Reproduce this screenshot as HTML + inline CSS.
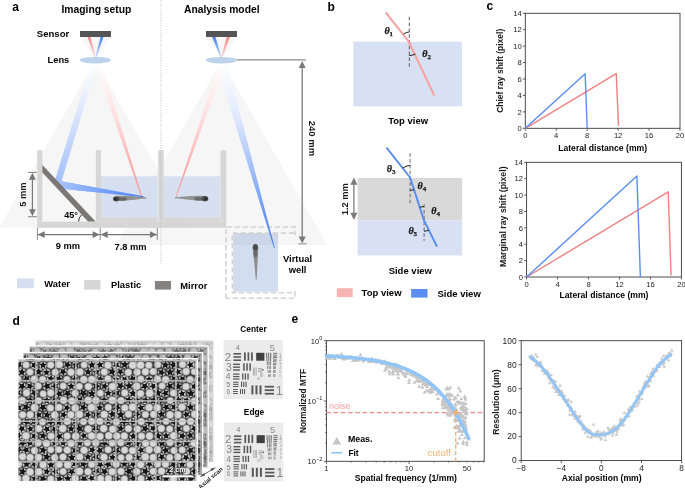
<!DOCTYPE html>
<html><head><meta charset="utf-8"><style>
html,body{margin:0;padding:0;background:#fff;width:685px;height:488px;overflow:hidden}
svg{display:block;font-family:"Liberation Sans",sans-serif;will-change:transform}
</style></head><body>
<svg width="685" height="488" viewBox="0 0 685 488">
<defs>
<linearGradient id="gBlueDown" x1="0" y1="63" x2="0" y2="182" gradientUnits="userSpaceOnUse">
 <stop offset="0" stop-color="#ffffff"/><stop offset="0.35" stop-color="#e3ebfd"/><stop offset="1" stop-color="#a3bffb"/></linearGradient>
<linearGradient id="gBlueOut" x1="58" y1="0" x2="143" y2="0" gradientUnits="userSpaceOnUse">
 <stop offset="0" stop-color="#a8c3fb"/><stop offset="1" stop-color="#4a84f3"/></linearGradient>
<linearGradient id="gRedA" x1="0" y1="63" x2="0" y2="198" gradientUnits="userSpaceOnUse">
 <stop offset="0" stop-color="#ffffff"/><stop offset="0.4" stop-color="#fde0e0"/><stop offset="1" stop-color="#fb8f8f"/></linearGradient>
<linearGradient id="gBlueB" x1="0" y1="63" x2="0" y2="248" gradientUnits="userSpaceOnUse">
 <stop offset="0" stop-color="#ffffff"/><stop offset="0.3" stop-color="#dfe8fd"/><stop offset="1" stop-color="#3f7cf2"/></linearGradient>
<linearGradient id="gRedB" x1="0" y1="63" x2="0" y2="198" gradientUnits="userSpaceOnUse">
 <stop offset="0" stop-color="#ffffff"/><stop offset="0.4" stop-color="#fde0e0"/><stop offset="1" stop-color="#fb8f8f"/></linearGradient>
<linearGradient id="gUpBlue" x1="0" y1="37" x2="0" y2="58" gradientUnits="userSpaceOnUse">
 <stop offset="0" stop-color="#4a84f3"/><stop offset="1" stop-color="#c8d8fb"/></linearGradient>
<linearGradient id="gUpRed" x1="0" y1="37" x2="0" y2="58" gradientUnits="userSpaceOnUse">
 <stop offset="0" stop-color="#f98e8e"/><stop offset="1" stop-color="#fcd6d6"/></linearGradient>
</defs>
<polygon points="95.30,61.00 -1.00,227.50 191.50,227.50" fill="#000" fill-opacity="0.035"/>
<polygon points="221.50,61.00 115.70,245.00 327.30,245.00" fill="#000" fill-opacity="0.035"/>
<rect x="37.20" y="221.60" width="189.10" height="6.20" fill="#d6d6d6" />
<rect x="101.00" y="217.20" width="56.60" height="4.50" fill="#d6d6d6" />
<rect x="163.70" y="217.20" width="56.60" height="4.50" fill="#d6d6d6" />
<rect x="101.00" y="176.30" width="56.60" height="40.90" fill="#d3ddf0" fill-opacity="0.9"/>
<rect x="163.70" y="176.30" width="56.60" height="40.90" fill="#d3ddf0" fill-opacity="0.9"/>
<rect x="37.20" y="150.20" width="5.20" height="71.40" fill="#d6d6d6" />
<rect x="95.80" y="150.20" width="5.20" height="71.40" fill="#d6d6d6" />
<rect x="158.20" y="150.20" width="5.50" height="71.40" fill="#d6d6d6" />
<rect x="220.50" y="150.20" width="5.80" height="71.40" fill="#d6d6d6" />
<polygon points="80.00,37.00 111.00,37.00 95.50,59.00" fill="#000" fill-opacity="0.03"/>
<polygon points="206.00,37.00 237.00,37.00 221.50,59.00" fill="#000" fill-opacity="0.03"/>
<polygon points="87.50,37.00 90.50,37.00 95.50,57.00 94.50,57.00" fill="url(#gUpRed)" />
<polygon points="100.50,37.00 103.50,37.00 96.50,57.00 95.50,57.00" fill="url(#gUpBlue)" />
<polygon points="212.00,37.00 215.50,37.00 221.50,57.00 220.50,57.00" fill="url(#gUpBlue)" />
<polygon points="226.50,37.00 230.00,37.00 222.50,57.00 221.50,57.00" fill="url(#gUpRed)" />
<rect x="80.00" y="31.00" width="31.00" height="6.00" fill="#555" />
<rect x="206.00" y="31.00" width="31.00" height="6.00" fill="#555" />
<rect x="233.10" y="233.10" width="45.00" height="58.60" fill="#d3ddf0" />
<rect x="233.10" y="233.10" width="45.00" height="11.90" fill="#000" fill-opacity="0.03"/>
<path d="M226,298.2 V227 H295 V235 M295,291.3 V298.2 H226" fill="none" stroke="#d4d4d4" stroke-width="1.6" stroke-dasharray="5.2,2.8"/>
<path d="M294,233.1 H232.3 V292.8 H295" fill="none" stroke="#d4d4d4" stroke-width="1.6" stroke-dasharray="5.2,2.8"/>
<g filter="url(#fb2)"><path d="M252.6,247 C252.8,255 254.8,262 255.7,279.5 L256.7,279.5 C257.3,266 258,256 258.4,247 Z" fill="#8f8f8f"/><ellipse cx="255.5" cy="253.5" rx="1.9" ry="4" fill="#6a6a6a"/><ellipse cx="255.4" cy="247.2" rx="2.6" ry="3.1" fill="#4a4a4a"/></g>
<defs><filter id="fb2" x="-50%" y="-20%" width="200%" height="140%"><feGaussianBlur stdDeviation="0.45"/></filter></defs>
<polygon points="94.50,63.00 101.50,63.00 142.50,197.80 141.50,197.80" fill="url(#gRedA)" />
<polygon points="91.00,63.00 97.50,63.00 61.50,181.30 143.50,196.30 143.50,197.30 64.00,189.00 55.00,180.00" fill="url(#gBlueDown)" />
<polygon points="61.50,181.30 143.50,196.30 143.50,197.30 64.00,189.00 58.00,181.50" fill="url(#gBlueOut)" />
<polygon points="219.00,63.00 226.00,63.00 175.80,198.40 175.20,198.40" fill="url(#gRedB)" />
<polygon points="216.00,63.00 227.00,63.00 274.80,248.00 274.00,248.00" fill="url(#gBlueB)" />
<ellipse cx="95.3" cy="60.2" rx="15.5" ry="3.3" fill="#bcd3eb"/>
<ellipse cx="221.5" cy="60.2" rx="15.5" ry="3.3" fill="#bcd3eb"/>
<polygon points="42.40,165.00 95.60,221.60 88.00,221.60 42.40,172.60" fill="#7c7777" />
<defs><filter id="fb" x="-20%" y="-50%" width="140%" height="200%"><feGaussianBlur stdDeviation="0.45"/></filter></defs>
<g filter="url(#fb)"><path d="M116.3,196.1 C125.3,195.4 133.3,196.4 146.3,197.3 L146.3,198.4 C135.3,199.2 127.3,201.0 116.3,201.1 Z" fill="#929292"/><ellipse cx="122.8" cy="198.8" rx="4.2" ry="1.9" fill="#6a6a6a"/><ellipse cx="116.3" cy="198.8" rx="3.3" ry="2.6" fill="#4a4a4a"/><circle cx="115.5" cy="199.1" r="1.4" fill="#2a2a2a"/></g>
<g filter="url(#fb)"><path d="M205.0,196.0 C196.0,195.3 188.0,196.3 175.0,197.2 L175.0,198.3 C186.0,199.1 194.0,200.9 205.0,201.0 Z" fill="#929292"/><ellipse cx="198.5" cy="198.7" rx="4.2" ry="1.9" fill="#6a6a6a"/><ellipse cx="205.0" cy="198.7" rx="3.3" ry="2.6" fill="#4a4a4a"/><circle cx="205.8" cy="199.0" r="1.4" fill="#2a2a2a"/></g>
<line x1="237.00" y1="59.80" x2="306.00" y2="59.80" stroke="#8c8c8c" stroke-width="1.3" />
<line x1="302.20" y1="66.00" x2="302.20" y2="237.00" stroke="#7a7a7a" stroke-width="1.3" />
<polygon points="302.20,61.00 298.70,68.00 305.70,68.00" fill="#7a7a7a" />
<polygon points="302.20,243.40 298.70,236.40 305.70,236.40" fill="#7a7a7a" />
<line x1="298.30" y1="243.80" x2="306.80" y2="243.80" stroke="#9a9a9a" stroke-width="1.2" />
<text x="0.00" y="0.00" font-size="9.5" font-weight="bold" text-anchor="middle" fill="#1a1a1a" transform="translate(308.6,138.4) rotate(90)">240 mm</text>
<line x1="160.90" y1="0.00" x2="160.90" y2="264.00" stroke="#bdbdbd" stroke-width="0.9" stroke-dasharray="1.1,1.4"/>
<line x1="28.00" y1="172.40" x2="36.80" y2="172.40" stroke="#8a8a8a" stroke-width="1.1" />
<line x1="28.00" y1="216.70" x2="36.80" y2="216.70" stroke="#8a8a8a" stroke-width="1.1" />
<line x1="32.40" y1="178.00" x2="32.40" y2="211.00" stroke="#777" stroke-width="1.2" />
<polygon points="32.40,172.80 29.00,179.80 35.80,179.80" fill="#777" />
<polygon points="32.40,216.30 29.00,209.30 35.80,209.30" fill="#777" />
<text x="0.00" y="0.00" font-size="9.3" font-weight="bold" text-anchor="middle" fill="#1a1a1a" transform="translate(26,194.7) rotate(-90)">5 mm</text>
<line x1="37.40" y1="234.60" x2="100.00" y2="234.60" stroke="#777" stroke-width="1.2" />
<polygon points="37.70,234.60 44.70,231.30 44.70,237.90" fill="#777" />
<polygon points="99.70,234.60 92.70,231.30 92.70,237.90" fill="#777" />
<line x1="100.40" y1="234.60" x2="157.30" y2="234.60" stroke="#777" stroke-width="1.2" />
<polygon points="100.70,234.60 107.70,231.30 107.70,237.90" fill="#777" />
<polygon points="157.00,234.60 150.00,231.30 150.00,237.90" fill="#777" />
<line x1="37.40" y1="227.80" x2="37.40" y2="240.00" stroke="#8a8a8a" stroke-width="1" />
<line x1="100.20" y1="227.80" x2="100.20" y2="240.00" stroke="#8a8a8a" stroke-width="1" />
<line x1="157.30" y1="227.80" x2="157.30" y2="240.00" stroke="#8a8a8a" stroke-width="1" />
<text x="67.80" y="248.60" font-size="9.3" font-weight="bold" text-anchor="middle" fill="#000" >9 mm</text>
<text x="130.60" y="249.80" font-size="9.3" font-weight="bold" text-anchor="middle" fill="#000" >7.8 mm</text>
<text x="64.30" y="218.40" font-size="9" font-weight="bold" text-anchor="start" fill="#000" >45°</text>
<path d="M78.6,221.5 A9.4,9.4 0 0 1 81.6,214.7" fill="none" stroke="#222" stroke-width="0.9"/>
<text x="297.50" y="261.80" font-size="9.4" font-weight="bold" text-anchor="middle" fill="#000" >Virtual</text>
<text x="297.50" y="273.10" font-size="9.4" font-weight="bold" text-anchor="middle" fill="#000" >well</text>
<text x="12.20" y="10.60" font-size="12" font-weight="bold" text-anchor="start" fill="#000" >a</text>
<text x="61.50" y="13.20" font-size="10.3" font-weight="bold" text-anchor="start" fill="#000" >Imaging setup</text>
<text x="184.00" y="12.70" font-size="10.3" font-weight="bold" text-anchor="start" fill="#000" >Analysis model</text>
<text x="69.30" y="36.80" font-size="9.6" font-weight="bold" text-anchor="end" fill="#000" >Sensor</text>
<text x="69.30" y="63.00" font-size="9.3" font-weight="bold" text-anchor="end" fill="#000" >Lens</text>
<rect x="17.00" y="278.40" width="16.90" height="9.80" fill="#d5dff1" />
<text x="44.30" y="287.30" font-size="9.4" font-weight="bold" text-anchor="start" fill="#000" >Water</text>
<rect x="84.10" y="280.00" width="16.40" height="9.60" fill="#d6d6d6" />
<text x="111.00" y="287.70" font-size="9.4" font-weight="bold" text-anchor="start" fill="#000" >Plastic</text>
<rect x="154.90" y="281.00" width="16.10" height="8.60" fill="#878282" />
<text x="180.30" y="288.90" font-size="9.4" font-weight="bold" text-anchor="start" fill="#000" >Mirror</text>
<text x="327.60" y="11.20" font-size="12" font-weight="bold" text-anchor="start" fill="#000" >b</text>
<rect x="353.30" y="41.70" width="108.70" height="64.60" fill="#d8e1f3" />
<line x1="409.30" y1="16.80" x2="409.30" y2="69.00" stroke="#4a4a4a" stroke-width="0.9" stroke-dasharray="3.6,2.2"/>
<polyline points="385.7,12.4 408.6,41.3 434.3,95.6" fill="none" stroke="#f6a2a2" stroke-width="2.1" stroke-linejoin="round"/>
<path d="M403.52,34.01 A9.3,9.3 0 0 1 409.30,32.00" fill="none" stroke="#1a1a1a" stroke-width="1"/>
<path d="M409.30,55.50 A14.2,14.2 0 0 0 415.37,54.14" fill="none" stroke="#1a1a1a" stroke-width="1"/>
<text x="384.40" y="33.90" font-family="Liberation Serif,serif" font-style="italic" font-weight="bold" font-size="10" fill="#1a1a1a" stroke="#1a1a1a" stroke-width="0.25">θ<tspan font-size="7" dy="1.9" font-style="normal">1</tspan></text>
<text x="422.20" y="57.30" font-family="Liberation Serif,serif" font-style="italic" font-weight="bold" font-size="10" fill="#1a1a1a" stroke="#1a1a1a" stroke-width="0.25">θ<tspan font-size="7" dy="1.9" font-style="normal">2</tspan></text>
<text x="408.20" y="124.00" font-size="9.5" font-weight="bold" text-anchor="middle" fill="#000" >Top view</text>
<rect x="357.60" y="177.90" width="104.50" height="42.50" fill="#d9d9d9" />
<rect x="357.60" y="220.40" width="104.50" height="35.10" fill="#d8e1f3" />
<line x1="410.10" y1="153.20" x2="410.10" y2="205.30" stroke="#5a5a5a" stroke-width="0.9" stroke-dasharray="3.6,2.2"/>
<line x1="424.10" y1="204.20" x2="424.10" y2="240.80" stroke="#5a5a5a" stroke-width="0.9" stroke-dasharray="3.6,2.2"/>
<polyline points="386.5,147.6 410.1,177.5 424.0,220.4 437,246.6" fill="none" stroke="#5b8ef0" stroke-width="2" stroke-linejoin="round"/>
<path d="M402.67,168.08 A12,12 0 0 1 410.10,165.50" fill="none" stroke="#1a1a1a" stroke-width="1"/>
<path d="M410.10,190.30 A12.8,12.8 0 0 0 414.05,189.68" fill="none" stroke="#1a1a1a" stroke-width="1"/>
<path d="M419.75,207.27 A13.8,13.8 0 0 1 424.00,206.60" fill="none" stroke="#1a1a1a" stroke-width="1"/>
<path d="M424.00,231.20 A10.8,10.8 0 0 0 428.80,230.07" fill="none" stroke="#1a1a1a" stroke-width="1"/>
<text x="386.80" y="171.80" font-family="Liberation Serif,serif" font-style="italic" font-weight="bold" font-size="10" fill="#1a1a1a" stroke="#1a1a1a" stroke-width="0.25">θ<tspan font-size="7" dy="1.9" font-style="normal">3</tspan></text>
<text x="417.60" y="189.20" font-family="Liberation Serif,serif" font-style="italic" font-weight="bold" font-size="10" fill="#1a1a1a" stroke="#1a1a1a" stroke-width="0.25">θ<tspan font-size="7" dy="1.9" font-style="normal">4</tspan></text>
<text x="431.20" y="214.20" font-family="Liberation Serif,serif" font-style="italic" font-weight="bold" font-size="10" fill="#1a1a1a" stroke="#1a1a1a" stroke-width="0.25">θ<tspan font-size="7" dy="1.9" font-style="normal">4</tspan></text>
<text x="408.40" y="234.30" font-family="Liberation Serif,serif" font-style="italic" font-weight="bold" font-size="10" fill="#1a1a1a" stroke="#1a1a1a" stroke-width="0.25">θ<tspan font-size="7" dy="1.9" font-style="normal">5</tspan></text>
<line x1="353.90" y1="184.00" x2="353.90" y2="214.00" stroke="#7a7a7a" stroke-width="1.3" />
<polygon points="353.90,177.60 350.40,184.80 357.40,184.80" fill="#7a7a7a" />
<polygon points="353.90,220.00 350.40,212.80 357.40,212.80" fill="#7a7a7a" />
<text x="0.00" y="0.00" font-size="9.3" font-weight="bold" text-anchor="middle" fill="#1a1a1a" transform="translate(347.6,199.2) rotate(-90)">1.2 mm</text>
<text x="410.30" y="274.20" font-size="9.5" font-weight="bold" text-anchor="middle" fill="#000" >Side view</text>
<rect x="336.80" y="288.20" width="15.90" height="8.90" fill="#f8b3b3" />
<text x="361.60" y="296.00" font-size="9.5" font-weight="bold" text-anchor="start" fill="#000" >Top view</text>
<rect x="411.10" y="289.00" width="16.40" height="8.60" fill="#5b8ef0" />
<text x="437.50" y="296.50" font-size="9.5" font-weight="bold" text-anchor="start" fill="#000" >Side view</text>
<text x="486.60" y="10.40" font-size="12" font-weight="bold" text-anchor="start" fill="#000" >c</text>
<rect x="525.30" y="13.30" width="154.70" height="115.00" fill="none" stroke="#3a3a3a" stroke-width="0.9"/>
<line x1="525.30" y1="128.30" x2="525.30" y2="130.80" stroke="#3a3a3a" stroke-width="0.8" />
<text x="525.30" y="137.90" font-size="7.6" font-weight="normal" text-anchor="middle" fill="#222" >0</text>
<line x1="556.24" y1="128.30" x2="556.24" y2="130.80" stroke="#3a3a3a" stroke-width="0.8" />
<text x="556.24" y="137.90" font-size="7.6" font-weight="normal" text-anchor="middle" fill="#222" >4</text>
<line x1="587.18" y1="128.30" x2="587.18" y2="130.80" stroke="#3a3a3a" stroke-width="0.8" />
<text x="587.18" y="137.90" font-size="7.6" font-weight="normal" text-anchor="middle" fill="#222" >8</text>
<line x1="618.12" y1="128.30" x2="618.12" y2="130.80" stroke="#3a3a3a" stroke-width="0.8" />
<text x="618.12" y="137.90" font-size="7.6" font-weight="normal" text-anchor="middle" fill="#222" >12</text>
<line x1="649.06" y1="128.30" x2="649.06" y2="130.80" stroke="#3a3a3a" stroke-width="0.8" />
<text x="649.06" y="137.90" font-size="7.6" font-weight="normal" text-anchor="middle" fill="#222" >16</text>
<line x1="680.00" y1="128.30" x2="680.00" y2="130.80" stroke="#3a3a3a" stroke-width="0.8" />
<text x="680.00" y="137.90" font-size="7.6" font-weight="normal" text-anchor="middle" fill="#222" >20</text>
<line x1="522.80" y1="128.30" x2="525.30" y2="128.30" stroke="#3a3a3a" stroke-width="0.8" />
<text x="521.70" y="131.00" font-size="7.6" font-weight="normal" text-anchor="end" fill="#222" >0</text>
<line x1="522.80" y1="111.87" x2="525.30" y2="111.87" stroke="#3a3a3a" stroke-width="0.8" />
<text x="521.70" y="114.57" font-size="7.6" font-weight="normal" text-anchor="end" fill="#222" >2</text>
<line x1="522.80" y1="95.44" x2="525.30" y2="95.44" stroke="#3a3a3a" stroke-width="0.8" />
<text x="521.70" y="98.14" font-size="7.6" font-weight="normal" text-anchor="end" fill="#222" >4</text>
<line x1="522.80" y1="79.01" x2="525.30" y2="79.01" stroke="#3a3a3a" stroke-width="0.8" />
<text x="521.70" y="81.71" font-size="7.6" font-weight="normal" text-anchor="end" fill="#222" >6</text>
<line x1="522.80" y1="62.59" x2="525.30" y2="62.59" stroke="#3a3a3a" stroke-width="0.8" />
<text x="521.70" y="65.29" font-size="7.6" font-weight="normal" text-anchor="end" fill="#222" >8</text>
<line x1="522.80" y1="46.16" x2="525.30" y2="46.16" stroke="#3a3a3a" stroke-width="0.8" />
<text x="521.70" y="48.86" font-size="7.6" font-weight="normal" text-anchor="end" fill="#222" >10</text>
<line x1="522.80" y1="29.73" x2="525.30" y2="29.73" stroke="#3a3a3a" stroke-width="0.8" />
<text x="521.70" y="32.43" font-size="7.6" font-weight="normal" text-anchor="end" fill="#222" >12</text>
<line x1="522.80" y1="13.30" x2="525.30" y2="13.30" stroke="#3a3a3a" stroke-width="0.8" />
<text x="521.70" y="16.00" font-size="7.6" font-weight="normal" text-anchor="end" fill="#222" >14</text>
<polyline points="525.30,128.30 616.26,73.68 618.51,125.84" fill="none" stroke="#f08080" stroke-width="1.4" stroke-linejoin="round"/>
<polyline points="525.30,128.30 585.17,73.68 587.18,128.30" fill="none" stroke="#5a8df0" stroke-width="1.4" stroke-linejoin="round"/>
<text x="602.65" y="150.60" font-size="8.6" font-weight="bold" text-anchor="middle" fill="#000" >Lateral distance (mm)</text>
<text x="0.00" y="0.00" font-size="8.5" font-weight="bold" text-anchor="middle" fill="#1a1a1a" transform="translate(503.30,70.80) rotate(-90)">Chief ray shift (pixel)</text>
<rect x="526.60" y="162.30" width="154.80" height="114.70" fill="none" stroke="#3a3a3a" stroke-width="0.9"/>
<line x1="526.60" y1="277.00" x2="526.60" y2="279.50" stroke="#3a3a3a" stroke-width="0.8" />
<text x="526.60" y="286.90" font-size="7.6" font-weight="normal" text-anchor="middle" fill="#222" >0</text>
<line x1="557.56" y1="277.00" x2="557.56" y2="279.50" stroke="#3a3a3a" stroke-width="0.8" />
<text x="557.56" y="286.90" font-size="7.6" font-weight="normal" text-anchor="middle" fill="#222" >4</text>
<line x1="588.52" y1="277.00" x2="588.52" y2="279.50" stroke="#3a3a3a" stroke-width="0.8" />
<text x="588.52" y="286.90" font-size="7.6" font-weight="normal" text-anchor="middle" fill="#222" >8</text>
<line x1="619.48" y1="277.00" x2="619.48" y2="279.50" stroke="#3a3a3a" stroke-width="0.8" />
<text x="619.48" y="286.90" font-size="7.6" font-weight="normal" text-anchor="middle" fill="#222" >12</text>
<line x1="650.44" y1="277.00" x2="650.44" y2="279.50" stroke="#3a3a3a" stroke-width="0.8" />
<text x="650.44" y="286.90" font-size="7.6" font-weight="normal" text-anchor="middle" fill="#222" >16</text>
<line x1="681.40" y1="277.00" x2="681.40" y2="279.50" stroke="#3a3a3a" stroke-width="0.8" />
<text x="681.40" y="286.90" font-size="7.6" font-weight="normal" text-anchor="middle" fill="#222" >20</text>
<line x1="524.10" y1="277.00" x2="526.60" y2="277.00" stroke="#3a3a3a" stroke-width="0.8" />
<text x="523.00" y="279.70" font-size="7.6" font-weight="normal" text-anchor="end" fill="#222" >0</text>
<line x1="524.10" y1="260.61" x2="526.60" y2="260.61" stroke="#3a3a3a" stroke-width="0.8" />
<text x="523.00" y="263.31" font-size="7.6" font-weight="normal" text-anchor="end" fill="#222" >2</text>
<line x1="524.10" y1="244.23" x2="526.60" y2="244.23" stroke="#3a3a3a" stroke-width="0.8" />
<text x="523.00" y="246.93" font-size="7.6" font-weight="normal" text-anchor="end" fill="#222" >4</text>
<line x1="524.10" y1="227.84" x2="526.60" y2="227.84" stroke="#3a3a3a" stroke-width="0.8" />
<text x="523.00" y="230.54" font-size="7.6" font-weight="normal" text-anchor="end" fill="#222" >6</text>
<line x1="524.10" y1="211.46" x2="526.60" y2="211.46" stroke="#3a3a3a" stroke-width="0.8" />
<text x="523.00" y="214.16" font-size="7.6" font-weight="normal" text-anchor="end" fill="#222" >8</text>
<line x1="524.10" y1="195.07" x2="526.60" y2="195.07" stroke="#3a3a3a" stroke-width="0.8" />
<text x="523.00" y="197.77" font-size="7.6" font-weight="normal" text-anchor="end" fill="#222" >10</text>
<line x1="524.10" y1="178.69" x2="526.60" y2="178.69" stroke="#3a3a3a" stroke-width="0.8" />
<text x="523.00" y="181.39" font-size="7.6" font-weight="normal" text-anchor="end" fill="#222" >12</text>
<line x1="524.10" y1="162.30" x2="526.60" y2="162.30" stroke="#3a3a3a" stroke-width="0.8" />
<text x="523.00" y="165.00" font-size="7.6" font-weight="normal" text-anchor="end" fill="#222" >14</text>
<polyline points="526.60,277.00 668.24,191.79 671.03,275.36" fill="none" stroke="#f08080" stroke-width="1.4" stroke-linejoin="round"/>
<polyline points="526.60,277.00 636.89,175.98 640.38,277.00" fill="none" stroke="#5a8df0" stroke-width="1.4" stroke-linejoin="round"/>
<text x="604.00" y="298.30" font-size="8.6" font-weight="bold" text-anchor="middle" fill="#000" >Lateral distance (mm)</text>
<text x="0.00" y="0.00" font-size="8.75" font-weight="bold" text-anchor="middle" fill="#1a1a1a" transform="translate(505.60,216.75) rotate(-90)">Marginal ray shift (pixel)</text>
<text x="12.60" y="324.80" font-size="12" font-weight="bold" text-anchor="start" fill="#000" >d</text>
<defs><filter id="tb" x="-5%" y="-5%" width="110%" height="110%"><feGaussianBlur stdDeviation="0.55"/></filter><g id="tex" filter="url(#tb)"><rect x="9.899999999999999" y="350.7" width="195.2" height="138.6" fill="#3c3c3c"/><g fill="#d8d8d8" stroke="#8a8a8a" stroke-width="0.6"><circle cx="10.0" cy="350.9" r="3.8"/><circle cx="18.5" cy="350.2" r="3.6"/><circle cx="26.7" cy="350.3" r="3.6"/><circle cx="34.5" cy="350.8" r="3.4"/><circle cx="43.0" cy="350.4" r="3.8"/><circle cx="50.4" cy="351.1" r="3.5"/><circle cx="59.6" cy="351.1" r="3.5"/><circle cx="67.5" cy="350.4" r="3.9"/><circle cx="75.9" cy="350.5" r="3.6"/><circle cx="83.3" cy="350.3" r="3.6"/><circle cx="91.7" cy="350.5" r="3.8"/><circle cx="100.3" cy="350.3" r="3.9"/><circle cx="107.8" cy="351.0" r="3.6"/><circle cx="116.2" cy="351.2" r="3.5"/><circle cx="125.1" cy="350.5" r="3.6"/><circle cx="133.2" cy="350.3" r="3.8"/><circle cx="141.5" cy="350.3" r="3.6"/><circle cx="149.1" cy="351.1" r="3.7"/><circle cx="157.3" cy="350.4" r="3.4"/><circle cx="165.4" cy="350.2" r="3.9"/><circle cx="174.0" cy="351.0" r="3.6"/><circle cx="181.7" cy="351.1" r="3.4"/><circle cx="190.5" cy="351.1" r="3.7"/><circle cx="198.4" cy="350.3" r="3.8"/><circle cx="206.7" cy="351.2" r="3.8"/><circle cx="14.0" cy="358.0" r="3.6"/><circle cx="22.1" cy="358.3" r="3.9"/><circle cx="30.4" cy="357.6" r="3.4"/><circle cx="38.5" cy="358.1" r="3.8"/><circle cx="47.1" cy="357.7" r="3.8"/><circle cx="55.0" cy="358.1" r="3.7"/><circle cx="63.3" cy="357.3" r="3.7"/><circle cx="71.7" cy="357.9" r="3.8"/><circle cx="79.7" cy="358.0" r="3.8"/><circle cx="88.0" cy="358.3" r="3.9"/><circle cx="96.3" cy="358.2" r="3.6"/><circle cx="104.4" cy="358.0" r="3.5"/><circle cx="112.3" cy="357.9" r="3.8"/><circle cx="120.1" cy="357.5" r="3.6"/><circle cx="128.5" cy="358.0" r="3.7"/><circle cx="136.6" cy="357.4" r="3.6"/><circle cx="145.2" cy="357.7" r="3.7"/><circle cx="153.1" cy="358.2" r="3.4"/><circle cx="161.2" cy="358.1" r="3.6"/><circle cx="169.8" cy="357.6" r="3.7"/><circle cx="178.3" cy="357.7" r="3.8"/><circle cx="186.3" cy="357.9" r="3.9"/><circle cx="194.3" cy="358.2" r="3.4"/><circle cx="202.7" cy="357.9" r="3.5"/><circle cx="210.7" cy="357.5" r="3.5"/><circle cx="10.4" cy="365.3" r="3.7"/><circle cx="18.6" cy="364.9" r="3.6"/><circle cx="26.1" cy="364.9" r="3.5"/><circle cx="34.3" cy="365.2" r="3.8"/><circle cx="43.1" cy="365.2" r="3.5"/><circle cx="50.7" cy="365.0" r="3.6"/><circle cx="59.3" cy="364.5" r="3.8"/><circle cx="67.3" cy="364.7" r="3.5"/><circle cx="75.7" cy="365.0" r="3.4"/><circle cx="84.1" cy="364.9" r="3.4"/><circle cx="91.8" cy="365.0" r="3.8"/><circle cx="100.0" cy="364.8" r="3.8"/><circle cx="107.9" cy="365.2" r="3.7"/><circle cx="116.3" cy="365.2" r="3.9"/><circle cx="124.7" cy="364.7" r="3.5"/><circle cx="132.6" cy="365.2" r="3.8"/><circle cx="140.6" cy="365.1" r="3.9"/><circle cx="148.8" cy="365.2" r="3.5"/><circle cx="157.7" cy="364.5" r="3.5"/><circle cx="165.3" cy="365.0" r="3.6"/><circle cx="173.5" cy="364.8" r="3.4"/><circle cx="182.5" cy="364.5" r="3.6"/><circle cx="190.4" cy="364.9" r="3.9"/><circle cx="198.2" cy="365.0" r="3.7"/><circle cx="206.8" cy="364.7" r="3.7"/><circle cx="14.3" cy="372.0" r="3.5"/><circle cx="21.9" cy="372.2" r="3.7"/><circle cx="30.0" cy="372.1" r="3.5"/><circle cx="38.6" cy="371.8" r="3.8"/><circle cx="46.5" cy="372.5" r="3.7"/><circle cx="55.2" cy="372.3" r="3.5"/><circle cx="63.1" cy="371.7" r="3.6"/><circle cx="71.0" cy="372.3" r="3.7"/><circle cx="80.0" cy="372.0" r="3.7"/><circle cx="88.0" cy="371.9" r="3.4"/><circle cx="96.4" cy="372.0" r="3.8"/><circle cx="104.3" cy="371.9" r="3.6"/><circle cx="112.1" cy="371.7" r="3.6"/><circle cx="120.4" cy="371.8" r="3.5"/><circle cx="128.3" cy="372.4" r="3.6"/><circle cx="137.2" cy="372.2" r="3.6"/><circle cx="145.4" cy="371.8" r="3.7"/><circle cx="153.1" cy="371.5" r="3.5"/><circle cx="161.5" cy="372.5" r="3.6"/><circle cx="170.0" cy="372.2" r="3.5"/><circle cx="178.1" cy="371.9" r="3.9"/><circle cx="186.1" cy="371.5" r="3.7"/><circle cx="194.3" cy="371.6" r="3.4"/><circle cx="203.0" cy="371.6" r="3.5"/><circle cx="210.6" cy="371.9" r="3.6"/><circle cx="9.6" cy="379.1" r="3.6"/><circle cx="17.7" cy="379.1" r="3.9"/><circle cx="26.7" cy="378.8" r="3.4"/><circle cx="34.4" cy="379.2" r="3.8"/><circle cx="42.6" cy="379.4" r="3.5"/><circle cx="50.7" cy="378.7" r="3.8"/><circle cx="58.7" cy="378.8" r="3.4"/><circle cx="66.9" cy="379.3" r="3.4"/><circle cx="75.3" cy="379.0" r="3.4"/><circle cx="83.8" cy="379.5" r="3.7"/><circle cx="91.8" cy="379.4" r="3.7"/><circle cx="100.3" cy="379.3" r="3.5"/><circle cx="107.9" cy="378.8" r="3.5"/><circle cx="116.1" cy="379.4" r="3.7"/><circle cx="124.6" cy="379.5" r="3.9"/><circle cx="132.8" cy="378.9" r="3.4"/><circle cx="140.7" cy="379.1" r="3.5"/><circle cx="149.2" cy="379.5" r="3.8"/><circle cx="157.5" cy="379.0" r="3.6"/><circle cx="165.7" cy="379.6" r="3.7"/><circle cx="174.2" cy="379.0" r="3.4"/><circle cx="182.5" cy="379.0" r="3.5"/><circle cx="190.2" cy="379.4" r="3.5"/><circle cx="198.2" cy="379.6" r="3.8"/><circle cx="206.3" cy="379.4" r="3.6"/><circle cx="14.2" cy="386.6" r="3.5"/><circle cx="22.0" cy="386.4" r="3.8"/><circle cx="29.9" cy="386.2" r="3.7"/><circle cx="38.1" cy="386.0" r="3.6"/><circle cx="47.0" cy="386.1" r="3.9"/><circle cx="55.2" cy="386.2" r="3.8"/><circle cx="63.2" cy="386.0" r="3.4"/><circle cx="71.3" cy="386.3" r="3.8"/><circle cx="79.4" cy="386.4" r="3.4"/><circle cx="88.3" cy="386.6" r="3.7"/><circle cx="96.2" cy="386.3" r="3.5"/><circle cx="104.7" cy="386.2" r="3.6"/><circle cx="112.6" cy="386.6" r="3.9"/><circle cx="120.5" cy="385.8" r="3.7"/><circle cx="129.2" cy="385.9" r="3.6"/><circle cx="136.7" cy="386.3" r="3.8"/><circle cx="144.8" cy="386.3" r="3.8"/><circle cx="153.3" cy="386.2" r="3.9"/><circle cx="162.1" cy="385.9" r="3.4"/><circle cx="169.9" cy="386.3" r="3.5"/><circle cx="178.2" cy="386.4" r="3.4"/><circle cx="186.0" cy="386.6" r="3.7"/><circle cx="194.1" cy="386.4" r="3.8"/><circle cx="202.3" cy="385.8" r="3.5"/><circle cx="211.1" cy="386.4" r="3.8"/><circle cx="10.1" cy="393.7" r="3.9"/><circle cx="17.7" cy="392.9" r="3.5"/><circle cx="26.5" cy="392.9" r="3.6"/><circle cx="34.4" cy="392.9" r="3.7"/><circle cx="43.2" cy="393.8" r="3.4"/><circle cx="50.7" cy="392.9" r="3.6"/><circle cx="59.3" cy="393.7" r="3.6"/><circle cx="67.6" cy="393.4" r="3.5"/><circle cx="75.1" cy="393.2" r="3.5"/><circle cx="83.3" cy="393.1" r="3.4"/><circle cx="91.8" cy="393.7" r="3.4"/><circle cx="100.4" cy="393.2" r="3.4"/><circle cx="108.3" cy="393.2" r="3.7"/><circle cx="116.4" cy="393.3" r="3.4"/><circle cx="124.7" cy="392.9" r="3.6"/><circle cx="132.8" cy="393.4" r="3.9"/><circle cx="140.6" cy="393.6" r="3.6"/><circle cx="149.7" cy="393.2" r="3.9"/><circle cx="157.9" cy="393.0" r="3.8"/><circle cx="165.4" cy="393.2" r="3.5"/><circle cx="173.5" cy="393.0" r="3.6"/><circle cx="182.0" cy="393.7" r="3.8"/><circle cx="190.8" cy="393.4" r="3.5"/><circle cx="198.0" cy="393.0" r="3.6"/><circle cx="207.0" cy="393.2" r="3.8"/><circle cx="14.2" cy="400.0" r="3.5"/><circle cx="22.1" cy="400.4" r="3.7"/><circle cx="30.1" cy="400.5" r="3.5"/><circle cx="38.6" cy="400.6" r="3.4"/><circle cx="46.8" cy="400.5" r="3.8"/><circle cx="54.9" cy="400.3" r="3.4"/><circle cx="63.6" cy="400.3" r="3.7"/><circle cx="71.8" cy="400.9" r="3.6"/><circle cx="80.0" cy="400.0" r="3.6"/><circle cx="88.2" cy="400.2" r="3.7"/><circle cx="95.9" cy="400.4" r="3.7"/><circle cx="104.2" cy="400.0" r="3.4"/><circle cx="112.2" cy="400.2" r="3.8"/><circle cx="120.9" cy="400.5" r="3.6"/><circle cx="128.5" cy="400.2" r="3.8"/><circle cx="136.6" cy="400.0" r="3.8"/><circle cx="145.5" cy="400.4" r="3.8"/><circle cx="153.6" cy="400.5" r="3.7"/><circle cx="161.2" cy="400.6" r="3.4"/><circle cx="170.2" cy="400.6" r="3.4"/><circle cx="178.3" cy="400.0" r="3.8"/><circle cx="186.5" cy="400.4" r="3.9"/><circle cx="194.2" cy="400.9" r="3.5"/><circle cx="202.5" cy="400.0" r="3.6"/><circle cx="210.4" cy="400.4" r="3.7"/><circle cx="9.5" cy="407.3" r="3.6"/><circle cx="18.5" cy="407.6" r="3.7"/><circle cx="26.1" cy="407.1" r="3.5"/><circle cx="34.6" cy="407.7" r="3.9"/><circle cx="43.0" cy="407.3" r="3.5"/><circle cx="50.4" cy="408.0" r="3.6"/><circle cx="58.9" cy="407.4" r="3.6"/><circle cx="66.9" cy="407.7" r="3.6"/><circle cx="75.2" cy="408.0" r="3.8"/><circle cx="83.3" cy="407.4" r="3.5"/><circle cx="91.5" cy="407.5" r="3.9"/><circle cx="99.7" cy="407.8" r="3.5"/><circle cx="108.3" cy="407.4" r="3.5"/><circle cx="117.0" cy="407.4" r="3.5"/><circle cx="124.8" cy="407.9" r="3.6"/><circle cx="132.5" cy="407.1" r="3.9"/><circle cx="141.0" cy="407.9" r="3.7"/><circle cx="149.1" cy="407.5" r="3.8"/><circle cx="157.2" cy="407.7" r="3.8"/><circle cx="166.2" cy="407.1" r="3.5"/><circle cx="174.3" cy="407.2" r="3.7"/><circle cx="182.0" cy="407.1" r="3.8"/><circle cx="190.6" cy="407.3" r="3.7"/><circle cx="198.9" cy="407.3" r="3.6"/><circle cx="206.6" cy="407.4" r="3.9"/><circle cx="14.2" cy="414.9" r="3.8"/><circle cx="22.6" cy="414.8" r="3.6"/><circle cx="30.2" cy="414.8" r="3.7"/><circle cx="38.7" cy="414.9" r="3.5"/><circle cx="47.1" cy="414.9" r="3.4"/><circle cx="54.7" cy="415.1" r="3.8"/><circle cx="63.5" cy="414.8" r="3.6"/><circle cx="70.9" cy="414.8" r="3.7"/><circle cx="79.5" cy="414.4" r="3.8"/><circle cx="87.9" cy="414.9" r="3.6"/><circle cx="96.3" cy="414.3" r="3.4"/><circle cx="104.2" cy="414.5" r="3.8"/><circle cx="112.4" cy="414.1" r="3.8"/><circle cx="120.7" cy="414.8" r="3.8"/><circle cx="128.5" cy="414.2" r="3.6"/><circle cx="136.9" cy="414.2" r="3.5"/><circle cx="145.4" cy="414.5" r="3.5"/><circle cx="153.6" cy="414.3" r="3.6"/><circle cx="161.5" cy="414.1" r="3.6"/><circle cx="170.0" cy="414.9" r="3.8"/><circle cx="177.9" cy="414.8" r="3.7"/><circle cx="186.4" cy="414.6" r="3.5"/><circle cx="194.7" cy="414.3" r="3.7"/><circle cx="202.2" cy="414.7" r="3.6"/><circle cx="210.6" cy="414.1" r="3.5"/><circle cx="9.9" cy="422.2" r="3.8"/><circle cx="17.8" cy="421.2" r="3.4"/><circle cx="26.6" cy="421.7" r="3.8"/><circle cx="34.5" cy="421.4" r="3.6"/><circle cx="42.5" cy="422.0" r="3.4"/><circle cx="50.6" cy="421.9" r="3.7"/><circle cx="58.9" cy="422.1" r="3.8"/><circle cx="67.3" cy="421.3" r="3.7"/><circle cx="75.6" cy="421.3" r="3.7"/><circle cx="83.5" cy="421.7" r="3.4"/><circle cx="91.7" cy="421.3" r="3.6"/><circle cx="99.9" cy="421.3" r="3.6"/><circle cx="108.1" cy="421.4" r="3.7"/><circle cx="116.3" cy="421.9" r="3.6"/><circle cx="124.3" cy="421.4" r="3.5"/><circle cx="132.7" cy="421.7" r="3.8"/><circle cx="141.2" cy="421.6" r="3.6"/><circle cx="149.2" cy="422.1" r="3.6"/><circle cx="157.2" cy="421.7" r="3.8"/><circle cx="166.1" cy="421.3" r="3.4"/><circle cx="173.7" cy="421.9" r="3.4"/><circle cx="182.3" cy="421.7" r="3.8"/><circle cx="190.6" cy="421.4" r="3.6"/><circle cx="198.6" cy="421.3" r="3.8"/><circle cx="207.1" cy="421.6" r="3.8"/><circle cx="14.2" cy="429.0" r="3.6"/><circle cx="21.9" cy="428.7" r="3.9"/><circle cx="30.3" cy="428.9" r="3.6"/><circle cx="38.8" cy="428.6" r="3.6"/><circle cx="46.8" cy="429.2" r="3.8"/><circle cx="54.7" cy="429.2" r="3.4"/><circle cx="62.7" cy="428.5" r="3.9"/><circle cx="71.1" cy="428.8" r="3.4"/><circle cx="79.4" cy="428.6" r="3.4"/><circle cx="88.2" cy="429.1" r="3.8"/><circle cx="95.7" cy="428.6" r="3.4"/><circle cx="103.7" cy="428.6" r="3.8"/><circle cx="112.6" cy="429.2" r="3.7"/><circle cx="120.7" cy="428.6" r="3.4"/><circle cx="128.4" cy="428.6" r="3.6"/><circle cx="137.3" cy="429.1" r="3.7"/><circle cx="145.1" cy="428.6" r="3.7"/><circle cx="153.0" cy="428.3" r="3.7"/><circle cx="161.3" cy="428.5" r="3.7"/><circle cx="169.6" cy="429.0" r="3.5"/><circle cx="178.1" cy="429.0" r="3.8"/><circle cx="186.4" cy="428.4" r="3.5"/><circle cx="194.4" cy="428.4" r="3.8"/><circle cx="202.9" cy="428.6" r="3.7"/><circle cx="210.6" cy="428.6" r="3.6"/><circle cx="10.0" cy="435.5" r="3.6"/><circle cx="18.5" cy="435.4" r="3.6"/><circle cx="26.0" cy="435.8" r="3.9"/><circle cx="34.4" cy="436.1" r="3.7"/><circle cx="43.1" cy="435.9" r="3.5"/><circle cx="51.1" cy="436.1" r="3.6"/><circle cx="59.4" cy="436.4" r="3.7"/><circle cx="67.1" cy="436.1" r="3.6"/><circle cx="75.7" cy="436.3" r="3.8"/><circle cx="83.9" cy="435.6" r="3.7"/><circle cx="91.6" cy="435.9" r="3.7"/><circle cx="100.1" cy="436.4" r="3.6"/><circle cx="108.8" cy="435.7" r="3.8"/><circle cx="116.8" cy="436.1" r="3.7"/><circle cx="124.3" cy="435.9" r="3.7"/><circle cx="133.4" cy="436.2" r="3.8"/><circle cx="141.5" cy="436.2" r="3.6"/><circle cx="149.5" cy="436.1" r="3.8"/><circle cx="158.0" cy="435.9" r="3.6"/><circle cx="166.2" cy="435.7" r="3.6"/><circle cx="173.7" cy="435.7" r="3.8"/><circle cx="182.3" cy="436.0" r="3.8"/><circle cx="190.2" cy="435.4" r="3.5"/><circle cx="198.9" cy="435.8" r="3.5"/><circle cx="206.8" cy="435.9" r="3.5"/><circle cx="14.3" cy="442.6" r="3.6"/><circle cx="22.6" cy="442.8" r="3.9"/><circle cx="29.9" cy="442.8" r="3.9"/><circle cx="38.1" cy="442.8" r="3.6"/><circle cx="46.4" cy="443.5" r="3.7"/><circle cx="54.6" cy="442.9" r="3.7"/><circle cx="63.2" cy="442.8" r="3.8"/><circle cx="71.1" cy="443.5" r="3.7"/><circle cx="79.8" cy="443.2" r="3.7"/><circle cx="87.4" cy="442.9" r="3.4"/><circle cx="95.7" cy="442.8" r="3.6"/><circle cx="104.6" cy="443.0" r="3.4"/><circle cx="112.2" cy="443.2" r="3.4"/><circle cx="120.8" cy="442.6" r="3.6"/><circle cx="128.9" cy="442.7" r="3.5"/><circle cx="136.9" cy="443.4" r="3.9"/><circle cx="145.6" cy="443.4" r="3.6"/><circle cx="153.2" cy="443.5" r="3.6"/><circle cx="162.0" cy="443.2" r="3.4"/><circle cx="170.0" cy="442.6" r="3.6"/><circle cx="177.7" cy="442.7" r="3.7"/><circle cx="186.6" cy="443.1" r="3.8"/><circle cx="194.1" cy="443.3" r="3.8"/><circle cx="202.6" cy="443.2" r="3.6"/><circle cx="210.3" cy="443.5" r="3.9"/><circle cx="10.2" cy="450.1" r="3.5"/><circle cx="18.5" cy="449.7" r="3.6"/><circle cx="26.1" cy="449.9" r="3.7"/><circle cx="34.5" cy="450.6" r="3.6"/><circle cx="43.1" cy="450.2" r="3.7"/><circle cx="50.8" cy="449.8" r="3.4"/><circle cx="58.9" cy="449.6" r="3.4"/><circle cx="67.2" cy="450.1" r="3.7"/><circle cx="75.2" cy="450.6" r="3.5"/><circle cx="84.1" cy="450.2" r="3.8"/><circle cx="92.2" cy="449.9" r="3.7"/><circle cx="99.9" cy="450.6" r="3.7"/><circle cx="108.1" cy="449.7" r="3.5"/><circle cx="116.6" cy="450.6" r="3.7"/><circle cx="124.6" cy="450.1" r="3.6"/><circle cx="132.5" cy="450.6" r="3.7"/><circle cx="141.1" cy="450.2" r="3.7"/><circle cx="149.1" cy="449.7" r="3.8"/><circle cx="157.4" cy="449.7" r="3.8"/><circle cx="165.9" cy="450.3" r="3.5"/><circle cx="174.0" cy="450.6" r="3.5"/><circle cx="182.2" cy="449.9" r="3.5"/><circle cx="190.4" cy="450.5" r="3.7"/><circle cx="198.4" cy="449.9" r="3.7"/><circle cx="206.6" cy="450.3" r="3.7"/><circle cx="14.3" cy="457.0" r="3.6"/><circle cx="22.6" cy="456.7" r="3.7"/><circle cx="30.1" cy="457.5" r="3.7"/><circle cx="38.4" cy="457.4" r="3.7"/><circle cx="46.7" cy="456.8" r="3.7"/><circle cx="54.7" cy="457.7" r="3.6"/><circle cx="63.0" cy="457.0" r="3.6"/><circle cx="71.8" cy="457.6" r="3.7"/><circle cx="79.7" cy="456.9" r="3.7"/><circle cx="87.9" cy="456.9" r="3.5"/><circle cx="95.9" cy="457.0" r="3.6"/><circle cx="104.0" cy="457.3" r="3.7"/><circle cx="112.5" cy="457.4" r="3.7"/><circle cx="121.0" cy="457.6" r="3.4"/><circle cx="129.2" cy="457.4" r="3.6"/><circle cx="137.3" cy="457.4" r="3.6"/><circle cx="145.2" cy="456.9" r="3.9"/><circle cx="153.1" cy="457.4" r="3.6"/><circle cx="161.8" cy="457.0" r="3.7"/><circle cx="169.7" cy="457.6" r="3.5"/><circle cx="177.8" cy="456.8" r="3.6"/><circle cx="186.1" cy="457.6" r="3.9"/><circle cx="194.1" cy="457.0" r="3.6"/><circle cx="202.4" cy="457.0" r="3.5"/><circle cx="210.7" cy="456.8" r="3.7"/><circle cx="10.3" cy="464.8" r="3.9"/><circle cx="18.5" cy="464.3" r="3.7"/><circle cx="26.6" cy="464.2" r="3.8"/><circle cx="34.3" cy="464.2" r="3.6"/><circle cx="43.1" cy="464.8" r="3.7"/><circle cx="51.0" cy="464.8" r="3.8"/><circle cx="59.2" cy="464.4" r="3.6"/><circle cx="67.7" cy="464.8" r="3.9"/><circle cx="75.0" cy="463.9" r="3.6"/><circle cx="83.3" cy="464.1" r="3.5"/><circle cx="91.6" cy="464.4" r="3.5"/><circle cx="100.3" cy="464.7" r="3.8"/><circle cx="108.2" cy="464.2" r="3.9"/><circle cx="116.1" cy="464.0" r="3.7"/><circle cx="124.4" cy="464.1" r="3.6"/><circle cx="133.0" cy="464.1" r="3.6"/><circle cx="140.7" cy="464.5" r="3.8"/><circle cx="149.4" cy="464.2" r="3.7"/><circle cx="157.5" cy="464.0" r="3.6"/><circle cx="165.5" cy="464.1" r="3.7"/><circle cx="173.7" cy="464.3" r="3.6"/><circle cx="182.1" cy="464.4" r="3.7"/><circle cx="189.9" cy="464.5" r="3.5"/><circle cx="198.5" cy="464.1" r="3.5"/><circle cx="206.6" cy="464.0" r="3.8"/><circle cx="14.2" cy="471.3" r="3.9"/><circle cx="22.6" cy="471.6" r="3.5"/><circle cx="30.0" cy="471.9" r="3.9"/><circle cx="38.8" cy="471.9" r="3.8"/><circle cx="46.7" cy="471.6" r="3.9"/><circle cx="55.5" cy="471.6" r="3.9"/><circle cx="63.1" cy="471.4" r="3.5"/><circle cx="71.7" cy="471.6" r="3.6"/><circle cx="79.4" cy="471.4" r="3.9"/><circle cx="88.0" cy="471.7" r="3.6"/><circle cx="96.4" cy="471.0" r="3.7"/><circle cx="104.6" cy="471.6" r="3.8"/><circle cx="112.1" cy="471.7" r="3.7"/><circle cx="121.0" cy="471.4" r="3.7"/><circle cx="128.8" cy="471.5" r="3.5"/><circle cx="136.8" cy="471.6" r="3.7"/><circle cx="145.4" cy="471.3" r="3.8"/><circle cx="153.1" cy="471.2" r="3.5"/><circle cx="161.5" cy="471.2" r="3.8"/><circle cx="169.5" cy="471.2" r="3.6"/><circle cx="177.6" cy="471.1" r="3.7"/><circle cx="186.4" cy="471.2" r="3.8"/><circle cx="194.8" cy="471.3" r="3.7"/><circle cx="202.4" cy="471.1" r="3.6"/><circle cx="210.7" cy="471.8" r="3.5"/><circle cx="9.4" cy="478.4" r="3.8"/><circle cx="18.0" cy="478.4" r="3.4"/><circle cx="25.9" cy="478.2" r="3.8"/><circle cx="34.7" cy="478.8" r="3.5"/><circle cx="42.9" cy="478.8" r="3.6"/><circle cx="50.8" cy="479.0" r="3.5"/><circle cx="59.5" cy="479.0" r="3.5"/><circle cx="67.7" cy="478.6" r="3.8"/><circle cx="75.1" cy="478.2" r="3.8"/><circle cx="84.0" cy="479.0" r="3.8"/><circle cx="91.6" cy="478.3" r="3.9"/><circle cx="100.6" cy="478.6" r="3.6"/><circle cx="108.4" cy="478.6" r="3.6"/><circle cx="116.8" cy="478.7" r="3.8"/><circle cx="124.4" cy="479.0" r="3.5"/><circle cx="133.2" cy="478.4" r="3.4"/><circle cx="141.0" cy="478.6" r="3.5"/><circle cx="149.6" cy="478.6" r="3.7"/><circle cx="157.1" cy="478.1" r="3.9"/><circle cx="166.1" cy="478.7" r="3.6"/><circle cx="173.6" cy="478.8" r="3.7"/><circle cx="182.3" cy="478.3" r="3.8"/><circle cx="190.7" cy="479.0" r="3.8"/><circle cx="198.5" cy="478.4" r="3.6"/><circle cx="206.3" cy="478.5" r="3.5"/><circle cx="13.5" cy="486.1" r="3.4"/><circle cx="21.8" cy="485.6" r="3.7"/><circle cx="30.2" cy="485.8" r="3.8"/><circle cx="38.4" cy="485.2" r="3.5"/><circle cx="47.0" cy="486.1" r="3.7"/><circle cx="55.0" cy="485.4" r="3.6"/><circle cx="63.2" cy="485.9" r="3.7"/><circle cx="71.1" cy="485.5" r="3.6"/><circle cx="79.6" cy="485.5" r="3.6"/><circle cx="87.9" cy="485.4" r="3.7"/><circle cx="96.1" cy="485.3" r="3.6"/><circle cx="103.7" cy="485.2" r="3.6"/><circle cx="112.7" cy="486.1" r="3.5"/><circle cx="120.3" cy="485.4" r="3.5"/><circle cx="128.5" cy="485.4" r="3.7"/><circle cx="137.0" cy="485.7" r="3.7"/><circle cx="145.6" cy="485.5" r="3.4"/><circle cx="152.9" cy="485.8" r="3.6"/><circle cx="161.8" cy="485.5" r="3.8"/><circle cx="170.2" cy="485.6" r="3.7"/><circle cx="178.3" cy="485.6" r="3.8"/><circle cx="186.2" cy="485.4" r="3.8"/><circle cx="194.0" cy="485.6" r="3.6"/><circle cx="202.9" cy="485.7" r="3.9"/><circle cx="211.1" cy="485.6" r="3.5"/><circle cx="10.1" cy="493.1" r="3.8"/><circle cx="18.1" cy="493.1" r="3.8"/><circle cx="26.1" cy="492.5" r="3.5"/><circle cx="34.9" cy="492.8" r="3.6"/><circle cx="42.3" cy="492.8" r="3.9"/><circle cx="50.4" cy="493.0" r="3.6"/><circle cx="58.6" cy="492.5" r="3.5"/><circle cx="66.8" cy="492.5" r="3.6"/><circle cx="75.1" cy="492.4" r="3.9"/><circle cx="84.1" cy="493.2" r="3.7"/><circle cx="91.8" cy="492.9" r="3.7"/><circle cx="100.0" cy="493.0" r="3.6"/><circle cx="108.2" cy="492.6" r="3.8"/><circle cx="116.1" cy="492.9" r="3.8"/><circle cx="124.7" cy="492.6" r="3.5"/><circle cx="133.1" cy="493.2" r="3.6"/><circle cx="140.9" cy="492.6" r="3.4"/><circle cx="148.9" cy="492.3" r="3.9"/><circle cx="157.2" cy="492.3" r="3.6"/><circle cx="165.3" cy="492.7" r="3.5"/><circle cx="173.9" cy="492.4" r="3.8"/><circle cx="182.5" cy="492.5" r="3.8"/><circle cx="190.0" cy="492.7" r="3.6"/><circle cx="198.7" cy="492.6" r="3.7"/><circle cx="207.0" cy="492.4" r="3.5"/></g><g fill="#121212"><polygon points="38.16,349.33 36.43,351.25 37.03,353.77 34.67,352.72 32.46,354.07 32.73,351.50 30.77,349.81 33.30,349.28 34.29,346.89 35.58,349.13"/><polygon points="43.64,346.28 44.44,348.91 47.05,349.74 44.80,351.31 44.81,354.06 42.63,352.40 40.02,353.26 40.92,350.67 39.30,348.46 42.04,348.51"/><polygon points="86.20,347.91 85.19,350.15 86.47,352.25 84.02,351.99 82.42,353.85 81.92,351.44 79.65,350.49 81.78,349.27 81.99,346.82 83.81,348.47"/><polygon points="94.03,347.33 93.60,349.90 95.47,351.71 92.89,352.09 91.75,354.43 90.59,352.10 88.01,351.73 89.87,349.91 89.42,347.34 91.73,348.55"/><polygon points="104.07,348.33 102.39,350.58 103.30,353.24 100.64,352.34 98.39,354.02 98.42,351.22 96.13,349.60 98.81,348.77 99.64,346.08 101.26,348.37"/><polygon points="108.04,347.29 109.00,349.56 111.41,350.06 109.54,351.67 109.81,354.11 107.71,352.84 105.46,353.85 106.02,351.45 104.37,349.63 106.82,349.43"/><polygon points="133.38,346.01 134.52,348.63 137.33,349.17 135.19,351.07 135.54,353.90 133.07,352.46 130.48,353.66 131.10,350.87 129.15,348.79 132.00,348.51"/><polygon points="161.34,349.24 159.28,351.10 159.64,353.85 157.24,352.47 154.73,353.66 155.30,350.95 153.39,348.93 156.15,348.64 157.48,346.20 158.61,348.74"/><polygon points="166.57,346.45 166.97,349.07 169.35,350.23 166.98,351.41 166.61,354.03 164.76,352.15 162.15,352.61 163.37,350.26 162.13,347.92 164.74,348.36"/><polygon points="182.38,346.89 183.19,349.62 185.90,350.50 183.55,352.11 183.55,354.96 181.29,353.23 178.59,354.11 179.53,351.42 177.86,349.12 180.71,349.19"/><polygon points="14.74,354.12 15.44,356.67 17.94,357.54 15.73,358.99 15.68,361.64 13.61,359.99 11.08,360.75 12.01,358.28 10.50,356.11 13.14,356.23"/><polygon points="34.24,355.82 32.49,358.03 33.32,360.73 30.67,359.75 28.37,361.37 28.48,358.55 26.22,356.86 28.94,356.10 29.85,353.43 31.42,355.78"/><polygon points="58.25,355.17 57.16,357.86 58.75,360.28 55.86,360.07 54.05,362.33 53.35,359.52 50.64,358.50 53.10,356.97 53.24,354.07 55.45,355.94"/><polygon points="65.64,353.88 65.25,356.62 67.28,358.50 64.55,358.97 63.39,361.48 62.10,359.03 59.35,358.71 61.28,356.72 60.74,354.01 63.23,355.23"/><polygon points="83.63,356.21 81.85,358.44 82.68,361.17 80.01,360.17 77.68,361.80 77.80,358.95 75.53,357.24 78.28,356.48 79.21,353.78 80.78,356.16"/><polygon points="88.86,354.30 89.51,356.93 92.04,357.88 89.74,359.31 89.62,362.01 87.55,360.27 84.95,360.98 85.96,358.48 84.48,356.22 87.17,356.41"/><polygon points="107.55,355.37 106.47,357.87 107.92,360.18 105.20,359.93 103.46,362.02 102.86,359.36 100.33,358.35 102.67,356.96 102.85,354.24 104.90,356.04"/><polygon points="129.69,354.13 130.13,356.77 132.55,357.91 130.17,359.14 129.84,361.79 127.93,359.92 125.31,360.42 126.50,358.03 125.21,355.68 127.86,356.08"/><polygon points="136.73,353.60 137.75,355.94 140.25,356.42 138.35,358.11 138.66,360.64 136.47,359.35 134.16,360.43 134.70,357.94 132.97,356.08 135.50,355.83"/><polygon points="155.12,354.85 154.92,357.43 156.94,359.05 154.43,359.66 153.51,362.08 152.15,359.88 149.56,359.75 151.24,357.78 150.56,355.29 152.95,356.27"/><polygon points="161.72,354.03 162.62,356.62 165.27,357.35 163.09,359.01 163.21,361.75 160.96,360.18 158.40,361.15 159.19,358.52 157.47,356.38 160.22,356.33"/><polygon points="179.05,353.83 179.76,356.36 182.24,357.21 180.06,358.67 180.02,361.30 177.95,359.67 175.44,360.44 176.36,357.98 174.84,355.83 177.47,355.93"/><polygon points="204.70,354.10 204.61,356.97 206.92,358.67 204.17,359.47 203.27,362.20 201.65,359.83 198.78,359.81 200.54,357.54 199.66,354.81 202.36,355.78"/><polygon points="21.20,361.38 20.68,364.24 22.74,366.30 19.85,366.69 18.53,369.29 17.27,366.66 14.39,366.21 16.50,364.20 16.04,361.32 18.61,362.70"/><polygon points="35.71,361.37 35.99,364.06 38.36,365.35 35.89,366.45 35.39,369.11 33.58,367.09 30.90,367.44 32.26,365.10 31.10,362.65 33.75,363.22"/><polygon points="46.79,364.11 44.93,365.82 45.28,368.33 43.08,367.09 40.81,368.20 41.31,365.72 39.55,363.90 42.06,363.61 43.25,361.38 44.30,363.68"/><polygon points="69.15,361.15 69.12,363.82 71.31,365.36 68.76,366.16 67.97,368.71 66.42,366.53 63.75,366.57 65.35,364.43 64.48,361.90 67.01,362.75"/><polygon points="79.48,363.51 77.69,365.49 78.31,368.08 75.88,367.00 73.60,368.39 73.88,365.74 71.85,364.00 74.46,363.45 75.48,360.98 76.82,363.29"/><polygon points="95.57,363.46 93.79,365.46 94.43,368.07 91.97,366.99 89.69,368.41 89.96,365.74 87.91,364.01 90.53,363.43 91.54,360.95 92.89,363.26"/><polygon points="103.43,362.95 101.92,365.06 102.80,367.50 100.33,366.72 98.28,368.31 98.26,365.72 96.11,364.26 98.58,363.44 99.30,360.95 100.84,363.04"/><polygon points="118.93,362.13 118.25,364.73 120.00,366.75 117.33,366.91 115.94,369.20 114.97,366.71 112.36,366.10 114.43,364.40 114.20,361.73 116.46,363.17"/><polygon points="125.08,360.48 126.10,363.12 128.86,363.78 126.66,365.57 126.89,368.40 124.51,366.86 121.89,367.95 122.62,365.21 120.77,363.06 123.60,362.90"/><polygon points="165.58,360.88 166.66,363.41 169.35,363.96 167.28,365.76 167.59,368.49 165.23,367.08 162.73,368.22 163.35,365.54 161.50,363.51 164.23,363.27"/><polygon points="176.88,362.45 175.56,364.83 176.77,367.27 174.10,366.75 172.15,368.65 171.82,365.95 169.41,364.69 171.88,363.54 172.33,360.85 174.19,362.85"/><polygon points="193.34,362.59 192.27,364.82 193.50,366.98 191.04,366.65 189.37,368.49 188.93,366.04 186.66,365.03 188.85,363.85 189.12,361.38 190.91,363.09"/><polygon points="17.49,369.74 16.23,372.05 17.42,374.40 14.83,373.91 12.97,375.77 12.63,373.16 10.29,371.96 12.67,370.83 13.08,368.24 14.89,370.15"/><polygon points="22.37,368.08 23.29,370.69 25.97,371.41 23.77,373.09 23.91,375.85 21.63,374.29 19.05,375.28 19.84,372.62 18.10,370.47 20.86,370.40"/><polygon points="38.87,367.63 39.93,370.22 42.66,370.81 40.53,372.61 40.81,375.39 38.43,373.93 35.88,375.05 36.54,372.34 34.68,370.25 37.47,370.04"/><polygon points="50.06,371.32 48.24,373.05 48.65,375.53 46.44,374.35 44.20,375.50 44.65,373.03 42.86,371.26 45.35,370.92 46.48,368.67 47.57,370.93"/><polygon points="64.95,368.28 64.84,370.90 66.93,372.47 64.41,373.17 63.55,375.65 62.11,373.47 59.49,373.42 61.12,371.37 60.35,368.87 62.80,369.78"/><polygon points="88.24,368.06 89.25,370.41 91.75,370.90 89.83,372.59 90.14,375.12 87.94,373.82 85.63,374.89 86.19,372.40 84.45,370.53 86.99,370.29"/><polygon points="100.08,370.36 98.36,372.41 99.07,374.99 96.59,373.99 94.36,375.46 94.54,372.80 92.45,371.13 95.05,370.48 95.99,367.98 97.40,370.24"/><polygon points="112.90,367.43 113.64,370.20 116.34,371.16 113.94,372.72 113.86,375.58 111.63,373.78 108.88,374.59 109.91,371.91 108.29,369.55 111.15,369.70"/><polygon points="122.62,368.65 122.19,371.18 124.03,372.97 121.49,373.34 120.36,375.65 119.22,373.35 116.68,372.98 118.52,371.19 118.08,368.66 120.35,369.85"/><polygon points="162.95,368.72 163.19,371.38 165.52,372.69 163.06,373.75 162.54,376.37 160.78,374.36 158.12,374.67 159.49,372.37 158.37,369.94 160.98,370.53"/><polygon points="173.95,370.80 172.04,372.80 172.60,375.51 170.10,374.31 167.70,375.68 168.07,372.93 166.02,371.07 168.75,370.58 169.89,368.05 171.20,370.49"/><polygon points="181.32,369.95 180.01,372.07 181.01,374.34 178.60,373.75 176.74,375.40 176.56,372.92 174.41,371.67 176.71,370.73 177.24,368.30 178.85,370.20"/><polygon points="203.35,367.59 204.33,370.04 206.90,370.63 204.87,372.32 205.12,374.95 202.88,373.54 200.45,374.58 201.10,372.02 199.36,370.04 202.00,369.86"/><polygon points="214.11,370.78 212.32,372.50 212.73,374.94 210.54,373.77 208.35,374.91 208.78,372.48 207.02,370.74 209.47,370.40 210.58,368.18 211.66,370.41"/><polygon points="11.07,375.66 11.20,378.16 13.32,379.47 10.99,380.36 10.40,382.78 8.83,380.84 6.34,381.03 7.71,378.94 6.76,376.63 9.17,377.28"/><polygon points="29.39,375.84 28.64,378.42 30.33,380.50 27.65,380.58 26.20,382.83 25.29,380.31 22.70,379.62 24.82,377.98 24.67,375.30 26.89,376.81"/><polygon points="51.37,374.83 52.11,377.32 54.59,378.12 52.45,379.60 52.45,382.20 50.38,380.62 47.91,381.43 48.77,378.98 47.24,376.87 49.84,376.94"/><polygon points="59.97,374.95 60.35,377.65 62.79,378.87 60.34,380.06 59.93,382.76 58.04,380.80 55.35,381.25 56.63,378.84 55.37,376.42 58.06,376.90"/><polygon points="78.54,376.79 77.24,379.05 78.37,381.39 75.83,380.86 73.94,382.66 73.66,380.07 71.37,378.84 73.74,377.77 74.21,375.21 75.96,377.14"/><polygon points="101.00,375.40 101.75,377.92 104.25,378.73 102.08,380.23 102.09,382.86 99.99,381.26 97.49,382.08 98.36,379.59 96.82,377.46 99.45,377.53"/><polygon points="116.69,375.69 117.40,378.06 119.76,378.83 117.72,380.24 117.72,382.72 115.75,381.21 113.39,381.98 114.22,379.64 112.76,377.63 115.24,377.69"/><polygon points="126.60,376.19 126.35,378.74 128.31,380.40 125.80,380.94 124.83,383.32 123.54,381.10 120.98,380.91 122.68,379.00 122.07,376.51 124.42,377.54"/><polygon points="136.23,376.43 134.90,378.94 136.22,381.46 133.42,380.97 131.43,383.00 131.03,380.19 128.48,378.92 131.03,377.67 131.45,374.86 133.43,376.90"/><polygon points="152.89,378.08 151.15,380.02 151.76,382.55 149.38,381.50 147.16,382.86 147.43,380.27 145.44,378.58 147.99,378.04 148.98,375.63 150.29,377.88"/><polygon points="176.62,375.70 176.16,378.39 178.12,380.29 175.42,380.68 174.22,383.13 173.01,380.69 170.31,380.30 172.26,378.39 171.80,375.71 174.21,376.97"/><polygon points="185.05,376.14 184.36,378.59 185.99,380.55 183.45,380.66 182.09,382.82 181.20,380.43 178.73,379.80 180.73,378.22 180.56,375.67 182.68,377.09"/><polygon points="200.31,376.00 200.13,378.74 202.29,380.44 199.63,381.12 198.69,383.70 197.22,381.38 194.48,381.28 196.23,379.16 195.48,376.52 198.03,377.53"/><polygon points="206.83,375.65 207.65,378.05 210.10,378.73 208.07,380.25 208.17,382.79 206.10,381.33 203.72,382.21 204.47,379.79 202.89,377.80 205.43,377.76"/><polygon points="24.03,382.63 23.94,385.46 26.22,387.13 23.50,387.92 22.61,390.61 21.02,388.27 18.19,388.25 19.93,386.02 19.07,383.32 21.73,384.28"/><polygon points="31.50,382.58 31.62,385.21 33.86,386.61 31.39,387.54 30.76,390.10 29.11,388.04 26.48,388.23 27.93,386.02 26.94,383.58 29.48,384.28"/><polygon points="50.41,383.41 49.17,386.01 50.62,388.51 47.76,388.14 45.83,390.29 45.30,387.45 42.66,386.29 45.19,384.90 45.49,382.03 47.59,384.01"/><polygon points="58.35,383.63 57.22,386.12 58.64,388.46 55.92,388.16 54.13,390.23 53.58,387.55 51.06,386.49 53.44,385.13 53.67,382.41 55.69,384.25"/><polygon points="74.92,384.90 73.14,386.80 73.71,389.34 71.35,388.24 69.11,389.56 69.43,386.98 67.48,385.26 70.03,384.76 71.07,382.38 72.33,384.65"/><polygon points="97.56,382.20 97.98,385.04 100.57,386.30 97.99,387.58 97.59,390.43 95.58,388.38 92.75,388.87 94.07,386.32 92.73,383.79 95.56,384.26"/><polygon points="105.59,382.38 106.18,384.95 108.63,385.92 106.37,387.28 106.21,389.91 104.22,388.18 101.66,388.84 102.69,386.41 101.28,384.19 103.91,384.42"/><polygon points="122.45,382.10 122.37,384.89 124.63,386.53 121.95,387.32 121.08,389.97 119.51,387.67 116.72,387.67 118.42,385.46 117.56,382.80 120.19,383.74"/><polygon points="132.99,384.29 131.20,386.38 131.91,389.03 129.37,387.98 127.07,389.47 127.29,386.73 125.15,385.00 127.83,384.36 128.81,381.80 130.25,384.14"/><polygon points="146.93,382.67 146.70,385.45 148.86,387.22 146.14,387.86 145.13,390.47 143.68,388.08 140.89,387.91 142.71,385.80 142.00,383.09 144.58,384.17"/><polygon points="156.09,383.48 155.25,385.93 156.79,388.01 154.21,387.97 152.71,390.08 151.95,387.61 149.48,386.84 151.59,385.35 151.56,382.76 153.63,384.31"/><polygon points="172.93,383.56 171.91,386.10 173.42,388.38 170.69,388.19 169.00,390.33 168.33,387.68 165.77,386.73 168.08,385.28 168.20,382.54 170.30,384.30"/><polygon points="182.25,385.06 180.24,387.07 180.75,389.87 178.22,388.58 175.71,389.93 176.16,387.12 174.10,385.16 176.91,384.72 178.14,382.15 179.43,384.69"/><polygon points="195.07,382.75 195.58,385.20 197.89,386.17 195.72,387.41 195.52,389.91 193.66,388.23 191.22,388.81 192.25,386.52 190.95,384.38 193.44,384.65"/><polygon points="10.70,389.40 11.62,392.15 14.42,392.95 12.08,394.68 12.19,397.58 9.82,395.90 7.09,396.89 7.96,394.12 6.17,391.83 9.08,391.81"/><polygon points="20.81,390.32 19.71,392.76 21.09,395.04 18.43,394.74 16.68,396.76 16.15,394.15 13.69,393.10 16.01,391.79 16.24,389.13 18.21,390.93"/><polygon points="36.88,389.58 36.37,392.31 38.33,394.28 35.58,394.63 34.31,397.10 33.12,394.60 30.38,394.15 32.40,392.25 31.97,389.51 34.41,390.84"/><polygon points="62.52,391.23 61.36,393.65 62.70,395.98 60.03,395.63 58.23,397.62 57.74,394.97 55.29,393.87 57.66,392.60 57.95,389.92 59.89,391.78"/><polygon points="70.27,390.03 69.66,392.82 71.61,394.90 68.77,395.18 67.39,397.67 66.25,395.06 63.45,394.52 65.58,392.62 65.23,389.80 67.69,391.24"/><polygon points="86.11,389.73 85.41,392.56 87.33,394.75 84.43,394.95 82.94,397.46 81.85,394.75 79.01,394.12 81.24,392.24 80.97,389.34 83.44,390.89"/><polygon points="91.81,389.47 93.05,392.02 95.85,392.45 93.81,394.41 94.27,397.21 91.77,395.87 89.25,397.18 89.75,394.39 87.74,392.40 90.54,392.01"/><polygon points="111.93,392.04 110.08,393.80 110.49,396.33 108.24,395.12 105.96,396.28 106.42,393.77 104.61,391.96 107.14,391.62 108.30,389.34 109.41,391.64"/><polygon points="119.85,390.54 118.62,393.17 120.10,395.67 117.22,395.32 115.30,397.50 114.74,394.65 112.08,393.49 114.61,392.08 114.89,389.20 117.01,391.17"/><polygon points="133.03,389.26 134.13,391.78 136.83,392.31 134.77,394.13 135.11,396.86 132.74,395.47 130.24,396.64 130.84,393.95 128.96,391.94 131.70,391.67"/><polygon points="162.10,391.75 159.95,393.71 160.34,396.59 157.81,395.14 155.19,396.40 155.79,393.56 153.78,391.45 156.67,391.14 158.05,388.58 159.24,391.23"/><polygon points="168.39,390.70 167.36,393.08 168.74,395.28 166.16,395.03 164.50,397.02 163.93,394.49 161.53,393.52 163.76,392.21 163.93,389.62 165.88,391.33"/><polygon points="185.25,391.94 183.82,393.95 184.67,396.27 182.31,395.53 180.37,397.05 180.35,394.58 178.30,393.21 180.64,392.42 181.32,390.05 182.79,392.03"/><polygon points="194.84,391.91 192.85,394.00 193.45,396.82 190.84,395.58 188.34,397.01 188.72,394.15 186.58,392.22 189.42,391.70 190.60,389.07 191.97,391.60"/><polygon points="210.83,391.97 208.88,393.83 209.31,396.49 206.93,395.21 204.53,396.44 205.02,393.79 203.10,391.88 205.78,391.52 207.00,389.12 208.17,391.55"/><polygon points="30.87,396.33 31.65,399.01 34.31,399.89 32.00,401.46 31.99,404.26 29.78,402.55 27.11,403.41 28.06,400.77 26.42,398.50 29.22,398.58"/><polygon points="47.01,396.47 48.07,398.94 50.71,399.46 48.70,401.24 49.02,403.91 46.70,402.54 44.26,403.67 44.85,401.05 43.02,399.08 45.70,398.82"/><polygon points="57.91,397.61 56.88,400.07 58.34,402.31 55.68,402.10 54.00,404.17 53.38,401.58 50.89,400.62 53.16,399.23 53.30,396.56 55.33,398.30"/><polygon points="82.00,396.42 81.88,399.12 84.03,400.76 81.42,401.47 80.53,404.03 79.05,401.77 76.34,401.71 78.03,399.60 77.25,397.01 79.78,397.97"/><polygon points="107.77,398.80 105.96,400.56 106.38,403.05 104.15,401.87 101.92,403.04 102.35,400.55 100.54,398.79 103.04,398.43 104.16,396.17 105.27,398.43"/><polygon points="129.53,395.96 130.18,398.76 132.86,399.81 130.40,401.29 130.22,404.16 128.05,402.28 125.27,403.00 126.39,400.35 124.84,397.93 127.71,398.18"/><polygon points="136.85,396.26 137.81,398.52 140.22,399.02 138.36,400.63 138.64,403.08 136.53,401.81 134.29,402.83 134.85,400.43 133.18,398.62 135.63,398.40"/><polygon points="146.15,396.34 146.97,398.94 149.58,399.74 147.36,401.33 147.41,404.06 145.21,402.43 142.63,403.32 143.49,400.73 141.85,398.55 144.58,398.57"/><polygon points="154.25,396.20 155.14,398.96 157.92,399.78 155.58,401.49 155.65,404.38 153.31,402.68 150.57,403.64 151.47,400.89 149.71,398.59 152.61,398.59"/><polygon points="164.17,397.92 163.17,400.39 164.64,402.62 161.97,402.43 160.31,404.52 159.66,401.93 157.16,400.99 159.43,399.58 159.55,396.91 161.59,398.63"/><polygon points="178.35,396.12 179.50,398.45 182.06,398.83 180.20,400.64 180.64,403.20 178.34,401.98 176.04,403.19 176.48,400.63 174.63,398.81 177.20,398.45"/><polygon points="187.52,396.77 187.96,399.25 190.26,400.30 188.03,401.49 187.75,404.01 185.93,402.25 183.45,402.76 184.55,400.49 183.30,398.29 185.81,398.63"/><polygon points="203.39,395.94 204.02,398.62 206.59,399.63 204.23,401.06 204.08,403.81 201.98,402.01 199.32,402.71 200.38,400.17 198.89,397.85 201.64,398.07"/><polygon points="214.24,398.86 212.43,400.89 213.08,403.54 210.58,402.45 208.27,403.88 208.54,401.17 206.46,399.41 209.12,398.83 210.15,396.31 211.52,398.66"/><polygon points="22.26,405.59 20.60,407.87 21.54,410.53 18.86,409.66 16.62,411.38 16.62,408.55 14.30,406.95 16.98,406.08 17.78,403.38 19.44,405.66"/><polygon points="27.55,403.05 27.88,405.90 30.41,407.25 27.80,408.44 27.31,411.27 25.36,409.15 22.52,409.55 23.93,407.05 22.67,404.47 25.49,405.04"/><polygon points="45.92,404.23 45.08,406.95 46.85,409.19 44.00,409.23 42.42,411.60 41.50,408.91 38.75,408.14 41.03,406.43 40.91,403.58 43.25,405.22"/><polygon points="68.29,404.27 68.46,406.75 70.60,408.02 68.29,408.94 67.74,411.37 66.15,409.46 63.67,409.69 65.00,407.58 64.02,405.30 66.43,405.91"/><polygon points="84.81,403.62 85.03,406.33 87.39,407.68 84.88,408.73 84.32,411.39 82.55,409.33 79.85,409.62 81.26,407.30 80.15,404.82 82.79,405.44"/><polygon points="103.31,406.71 101.47,408.41 101.83,410.88 99.65,409.66 97.41,410.76 97.90,408.31 96.16,406.52 98.64,406.23 99.80,404.02 100.85,406.29"/><polygon points="119.04,403.62 118.93,406.50 121.24,408.22 118.47,409.01 117.54,411.74 115.94,409.35 113.06,409.31 114.84,407.04 113.98,404.29 116.69,405.28"/><polygon points="144.25,405.71 142.99,407.98 144.14,410.30 141.60,409.80 139.75,411.60 139.44,409.03 137.15,407.83 139.50,406.74 139.93,404.19 141.69,406.09"/><polygon points="169.09,404.36 168.18,406.87 169.74,409.04 167.07,408.95 165.49,411.09 164.75,408.53 162.22,407.69 164.43,406.20 164.45,403.53 166.55,405.17"/><polygon points="175.58,403.28 175.93,405.99 178.36,407.23 175.90,408.40 175.47,411.09 173.60,409.12 170.90,409.54 172.20,407.15 170.97,404.72 173.65,405.21"/><polygon points="194.23,405.64 192.55,407.73 193.32,410.31 190.81,409.35 188.60,410.88 188.73,408.20 186.60,406.57 189.19,405.87 190.08,403.33 191.55,405.58"/><polygon points="15.88,410.86 16.03,413.75 18.50,415.27 15.79,416.31 15.12,419.12 13.29,416.87 10.41,417.10 11.98,414.67 10.88,411.99 13.67,412.74"/><polygon points="41.88,413.00 40.56,415.06 41.51,417.33 39.13,416.71 37.27,418.32 37.13,415.86 35.03,414.59 37.32,413.70 37.88,411.30 39.43,413.20"/><polygon points="47.70,410.96 48.50,413.52 51.06,414.31 48.87,415.86 48.91,418.54 46.76,416.94 44.22,417.81 45.08,415.27 43.47,413.12 46.15,413.15"/><polygon points="64.87,411.14 65.14,413.69 67.39,414.92 65.04,415.96 64.57,418.48 62.86,416.57 60.31,416.90 61.60,414.68 60.50,412.36 63.01,412.90"/><polygon points="89.14,411.34 89.44,413.81 91.64,414.96 89.38,416.01 88.97,418.46 87.28,416.63 84.82,416.99 86.03,414.82 84.92,412.59 87.36,413.07"/><polygon points="96.92,410.06 97.81,412.73 100.51,413.52 98.25,415.18 98.33,418.00 96.05,416.36 93.40,417.31 94.26,414.63 92.53,412.41 95.34,412.39"/><polygon points="116.08,412.21 114.47,414.43 115.39,417.02 112.77,416.17 110.60,417.85 110.59,415.10 108.33,413.55 110.94,412.69 111.72,410.06 113.33,412.28"/><polygon points="124.86,413.61 122.75,415.55 123.15,418.40 120.65,416.99 118.07,418.24 118.64,415.43 116.65,413.37 119.50,413.04 120.84,410.51 122.03,413.12"/><polygon points="138.39,410.50 138.57,413.15 140.86,414.50 138.39,415.49 137.81,418.09 136.11,416.05 133.46,416.30 134.88,414.05 133.82,411.61 136.40,412.26"/><polygon points="165.27,412.31 163.57,414.50 164.41,417.15 161.80,416.21 159.54,417.83 159.63,415.05 157.39,413.40 160.06,412.63 160.93,409.99 162.49,412.29"/><polygon points="189.42,412.10 188.35,414.45 189.67,416.65 187.11,416.36 185.42,418.30 184.91,415.78 182.54,414.77 184.78,413.50 185.01,410.94 186.91,412.68"/><polygon points="210.62,410.34 211.71,412.60 214.19,412.98 212.38,414.71 212.78,417.19 210.57,416.00 208.35,417.15 208.79,414.69 207.01,412.92 209.49,412.58"/><polygon points="10.40,417.85 11.40,420.55 14.20,421.26 11.94,423.05 12.13,425.93 9.72,424.33 7.04,425.40 7.82,422.62 5.98,420.41 8.86,420.29"/><polygon points="29.64,418.63 28.70,421.36 30.42,423.68 27.53,423.63 25.86,425.98 25.01,423.22 22.26,422.35 24.63,420.69 24.60,417.81 26.91,419.55"/><polygon points="35.79,417.30 36.25,420.10 38.81,421.32 36.29,422.61 35.92,425.43 33.91,423.43 31.12,423.95 32.40,421.42 31.04,418.92 33.84,419.36"/><polygon points="52.75,418.24 52.55,421.03 54.73,422.78 52.02,423.45 51.04,426.07 49.56,423.69 46.76,423.57 48.56,421.43 47.82,418.73 50.41,419.78"/><polygon points="59.59,417.95 60.40,420.60 63.05,421.43 60.78,423.02 60.80,425.79 58.59,424.13 55.96,425.01 56.86,422.39 55.21,420.16 57.98,420.21"/><polygon points="76.42,417.32 77.11,419.89 79.62,420.78 77.39,422.23 77.31,424.89 75.24,423.22 72.69,423.97 73.65,421.49 72.14,419.29 74.80,419.43"/><polygon points="111.54,419.78 110.00,421.76 110.75,424.14 108.40,423.29 106.36,424.74 106.45,422.24 104.43,420.75 106.84,420.06 107.63,417.69 109.03,419.76"/><polygon points="126.86,418.04 126.31,420.83 128.29,422.86 125.47,423.20 124.15,425.71 122.96,423.14 120.16,422.66 122.24,420.73 121.83,417.92 124.31,419.30"/><polygon points="135.77,419.08 134.75,421.54 136.19,423.78 133.53,423.57 131.85,425.63 131.23,423.04 128.75,422.07 131.02,420.69 131.17,418.02 133.20,419.76"/><polygon points="152.10,419.12 151.27,421.73 152.94,423.90 150.21,423.91 148.67,426.17 147.81,423.57 145.18,422.81 147.39,421.19 147.30,418.45 149.53,420.05"/><polygon points="160.32,419.56 159.06,421.73 160.14,424.00 157.69,423.48 155.87,425.20 155.61,422.71 153.40,421.51 155.69,420.49 156.15,418.02 157.83,419.89"/><polygon points="175.28,418.41 175.35,420.94 177.47,422.32 175.08,423.16 174.43,425.61 172.89,423.60 170.36,423.73 171.79,421.64 170.88,419.28 173.31,420.00"/><polygon points="202.62,419.89 200.66,421.92 201.23,424.68 198.69,423.45 196.24,424.84 196.63,422.04 194.55,420.14 197.32,419.64 198.49,417.08 199.82,419.57"/><polygon points="24.67,426.04 23.79,428.46 25.29,430.55 22.72,430.47 21.19,432.54 20.48,430.07 18.03,429.26 20.16,427.81 20.18,425.23 22.21,426.82"/><polygon points="33.59,427.12 32.19,429.15 33.06,431.46 30.69,430.75 28.77,432.30 28.71,429.83 26.64,428.48 28.97,427.66 29.62,425.27 31.12,427.24"/><polygon points="49.62,426.46 48.75,428.93 50.29,431.04 47.68,430.98 46.15,433.10 45.40,430.59 42.91,429.79 45.06,428.30 45.05,425.69 47.13,427.27"/><polygon points="57.12,426.23 56.54,428.75 58.29,430.65 55.72,430.88 54.45,433.13 53.43,430.76 50.90,430.24 52.85,428.54 52.55,425.98 54.77,427.30"/><polygon points="74.79,427.67 72.93,429.40 73.30,431.92 71.08,430.69 68.80,431.82 69.28,429.32 67.50,427.50 70.03,427.19 71.21,424.94 72.28,427.24"/><polygon points="83.02,426.05 81.61,428.60 82.92,431.22 80.05,430.66 77.97,432.71 77.61,429.82 75.02,428.47 77.66,427.23 78.14,424.35 80.13,426.48"/><polygon points="98.17,425.21 97.67,427.95 99.65,429.92 96.89,430.30 95.63,432.79 94.42,430.27 91.66,429.84 93.68,427.91 93.23,425.16 95.69,426.48"/><polygon points="121.30,424.62 122.09,427.17 124.64,427.96 122.47,429.51 122.50,432.18 120.36,430.58 117.83,431.44 118.69,428.91 117.09,426.77 119.76,426.81"/><polygon points="146.69,424.69 146.90,427.50 149.34,428.93 146.72,430.00 146.12,432.76 144.30,430.60 141.49,430.88 142.97,428.48 141.83,425.90 144.58,426.57"/><polygon points="154.47,424.90 154.63,427.35 156.74,428.61 154.46,429.52 153.91,431.92 152.34,430.03 149.89,430.26 151.20,428.18 150.23,425.92 152.62,426.52"/><polygon points="181.24,426.07 180.23,428.75 181.87,431.10 179.01,430.97 177.28,433.25 176.52,430.49 173.82,429.55 176.20,427.98 176.26,425.12 178.50,426.90"/><polygon points="196.98,425.27 196.39,427.88 198.21,429.85 195.55,430.10 194.24,432.44 193.18,429.98 190.55,429.46 192.56,427.69 192.24,425.03 194.55,426.39"/><polygon points="10.55,431.75 11.37,434.16 13.82,434.86 11.77,436.38 11.87,438.92 9.79,437.45 7.40,438.33 8.16,435.89 6.59,433.89 9.13,433.86"/><polygon points="19.81,431.94 20.07,434.40 22.25,435.57 19.99,436.58 19.55,439.01 17.89,437.18 15.44,437.51 16.67,435.37 15.60,433.14 18.02,433.65"/><polygon points="35.73,432.50 35.97,435.06 38.21,436.31 35.85,437.32 35.35,439.84 33.66,437.91 31.12,438.22 32.42,436.01 31.35,433.68 33.85,434.25"/><polygon points="43.87,431.89 44.58,434.48 47.11,435.37 44.86,436.84 44.79,439.52 42.71,437.84 40.13,438.60 41.09,436.10 39.57,433.89 42.25,434.02"/><polygon points="62.44,433.73 61.39,436.21 62.83,438.48 60.15,438.24 58.44,440.32 57.83,437.69 55.33,436.70 57.64,435.32 57.81,432.63 59.84,434.40"/><polygon points="87.01,433.56 85.77,435.72 86.85,437.96 84.41,437.45 82.61,439.16 82.35,436.69 80.16,435.50 82.43,434.49 82.88,432.04 84.55,433.89"/><polygon points="137.07,434.72 135.30,436.70 135.93,439.28 133.50,438.21 131.24,439.61 131.50,436.97 129.48,435.25 132.07,434.69 133.08,432.23 134.42,434.52"/><polygon points="158.23,431.82 159.28,434.33 161.94,434.89 159.87,436.66 160.16,439.37 157.84,437.95 155.36,439.06 155.99,436.41 154.17,434.40 156.88,434.18"/><polygon points="169.74,434.37 168.01,436.23 168.56,438.72 166.25,437.65 164.06,438.94 164.37,436.41 162.46,434.73 164.96,434.24 165.97,431.90 167.21,434.13"/><polygon points="183.57,432.27 183.88,434.86 186.20,436.07 183.83,437.17 183.40,439.75 181.62,437.84 179.04,438.22 180.30,435.94 179.14,433.60 181.70,434.10"/><polygon points="193.46,433.29 192.12,435.53 193.20,437.89 190.66,437.31 188.74,439.07 188.52,436.48 186.25,435.19 188.65,434.17 189.16,431.62 190.87,433.59"/><polygon points="207.55,432.07 208.24,434.56 210.69,435.40 208.53,436.83 208.49,439.41 206.47,437.80 204.00,438.56 204.90,436.14 203.42,434.02 206.00,434.14"/><polygon points="24.84,439.15 24.57,442.01 26.78,443.85 23.98,444.48 22.91,447.15 21.44,444.68 18.57,444.48 20.47,442.32 19.77,439.54 22.41,440.68"/><polygon points="33.57,440.69 32.00,443.01 33.02,445.62 30.33,444.84 28.16,446.61 28.07,443.82 25.71,442.30 28.35,441.35 29.06,438.64 30.77,440.86"/><polygon points="58.28,441.64 56.46,443.50 56.96,446.05 54.63,444.90 52.36,446.17 52.74,443.59 50.83,441.82 53.39,441.39 54.49,439.03 55.69,441.33"/><polygon points="63.71,438.86 64.56,441.38 67.11,442.11 64.97,443.69 65.07,446.34 62.91,444.80 60.41,445.71 61.21,443.18 59.58,441.09 62.23,441.06"/><polygon points="79.92,439.39 80.95,441.69 83.43,442.15 81.56,443.84 81.89,446.35 79.70,445.09 77.42,446.18 77.94,443.71 76.20,441.87 78.72,441.61"/><polygon points="107.50,439.84 106.67,442.59 108.47,444.83 105.60,444.89 104.02,447.29 103.08,444.58 100.31,443.82 102.59,442.08 102.46,439.22 104.82,440.85"/><polygon points="129.84,438.77 130.44,441.40 132.95,442.41 130.63,443.79 130.45,446.48 128.42,444.70 125.80,445.36 126.87,442.88 125.43,440.60 128.12,440.85"/><polygon points="137.68,439.23 138.47,441.94 141.15,442.82 138.82,444.41 138.81,447.23 136.58,445.50 133.89,446.36 134.84,443.71 133.19,441.42 136.01,441.50"/><polygon points="165.88,441.66 164.06,443.73 164.73,446.41 162.19,445.32 159.85,446.78 160.11,444.03 157.99,442.26 160.69,441.66 161.72,439.10 163.13,441.47"/><polygon points="179.66,439.40 179.46,441.97 181.46,443.59 178.95,444.20 178.03,446.61 176.68,444.41 174.10,444.28 175.78,442.31 175.11,439.82 177.49,440.81"/><polygon points="187.18,438.83 188.12,441.54 190.89,442.30 188.60,444.03 188.73,446.89 186.38,445.25 183.70,446.26 184.53,443.52 182.74,441.28 185.60,441.22"/><polygon points="203.14,439.43 203.92,441.86 206.38,442.59 204.30,444.09 204.36,446.65 202.29,445.14 199.88,445.99 200.68,443.56 199.12,441.52 201.68,441.53"/><polygon points="211.75,439.74 212.00,442.37 214.32,443.66 211.89,444.72 211.38,447.32 209.63,445.33 207.00,445.65 208.34,443.37 207.23,440.97 209.81,441.54"/><polygon points="20.39,445.96 20.37,448.71 22.63,450.29 20.00,451.12 19.20,453.76 17.60,451.52 14.84,451.56 16.48,449.35 15.58,446.75 18.19,447.62"/><polygon points="29.22,447.36 28.12,449.80 29.50,452.10 26.83,451.80 25.07,453.83 24.53,451.20 22.06,450.15 24.40,448.83 24.63,446.15 26.61,447.96"/><polygon points="44.18,446.17 44.75,448.90 47.32,449.98 44.90,451.36 44.68,454.14 42.61,452.27 39.90,452.91 41.04,450.37 39.59,447.99 42.36,448.29"/><polygon points="76.73,446.74 76.97,449.49 79.36,450.85 76.82,451.92 76.26,454.62 74.46,452.54 71.72,452.84 73.15,450.48 72.01,447.97 74.70,448.60"/><polygon points="93.56,446.21 93.85,448.80 96.16,450.02 93.78,451.11 93.33,453.67 91.57,451.75 88.99,452.11 90.27,449.84 89.13,447.50 91.68,448.02"/><polygon points="103.01,447.90 101.97,450.41 103.44,452.69 100.74,452.48 99.02,454.59 98.39,451.94 95.85,450.96 98.17,449.55 98.32,446.83 100.39,448.60"/><polygon points="119.24,447.09 118.70,449.95 120.75,452.02 117.86,452.39 116.52,454.98 115.28,452.35 112.40,451.88 114.52,449.88 114.08,447.00 116.64,448.40"/><polygon points="144.23,448.00 143.04,450.22 144.20,452.46 141.72,452.01 139.95,453.80 139.61,451.31 137.36,450.18 139.62,449.08 140.00,446.59 141.75,448.41"/><polygon points="169.39,448.19 167.92,450.49 168.98,453.00 166.34,452.32 164.27,454.10 164.11,451.38 161.77,449.96 164.31,448.97 164.93,446.31 166.67,448.42"/><polygon points="193.44,447.68 192.47,450.26 194.05,452.53 191.29,452.41 189.63,454.61 188.89,451.95 186.28,451.05 188.59,449.53 188.64,446.77 190.80,448.49"/><polygon points="199.22,446.25 199.81,448.65 202.12,449.54 200.01,450.83 199.88,453.30 198.00,451.70 195.61,452.34 196.55,450.06 195.20,447.98 197.67,448.17"/><polygon points="16.51,453.49 16.25,456.25 18.37,458.03 15.67,458.64 14.63,461.21 13.22,458.82 10.45,458.63 12.29,456.55 11.62,453.86 14.16,454.96"/><polygon points="47.50,452.63 48.26,455.38 50.95,456.31 48.57,457.88 48.51,460.73 46.28,458.95 43.55,459.78 44.56,457.11 42.93,454.77 45.78,454.90"/><polygon points="75.69,455.98 73.85,458.09 74.54,460.80 71.97,459.70 69.61,461.20 69.86,458.41 67.71,456.62 70.43,456.00 71.47,453.40 72.90,455.80"/><polygon points="87.90,453.13 88.99,455.36 91.44,455.72 89.67,457.45 90.08,459.89 87.89,458.73 85.69,459.88 86.11,457.44 84.34,455.71 86.80,455.36"/><polygon points="99.02,454.36 97.92,456.84 99.33,459.16 96.63,458.88 94.86,460.94 94.30,458.28 91.79,457.24 94.15,455.88 94.36,453.17 96.38,454.99"/><polygon points="113.03,453.63 113.80,456.01 116.19,456.73 114.16,458.20 114.22,460.70 112.20,459.22 109.84,460.04 110.62,457.67 109.10,455.68 111.61,455.69"/><polygon points="140.97,456.06 139.17,457.96 139.71,460.53 137.34,459.40 135.07,460.72 135.41,458.11 133.46,456.36 136.04,455.88 137.11,453.48 138.36,455.78"/><polygon points="164.29,454.07 163.66,456.55 165.34,458.47 162.79,458.64 161.47,460.83 160.53,458.45 158.03,457.88 160.00,456.25 159.78,453.70 161.94,455.07"/><polygon points="188.10,454.31 187.84,456.84 189.78,458.49 187.29,459.02 186.32,461.37 185.04,459.18 182.51,458.98 184.21,457.09 183.61,454.61 185.93,455.64"/><polygon points="196.69,453.72 196.08,456.42 197.97,458.46 195.21,458.72 193.85,461.14 192.75,458.59 190.03,458.05 192.12,456.22 191.79,453.47 194.17,454.88"/><polygon points="212.18,452.81 212.49,455.60 214.98,456.93 212.41,458.09 211.92,460.87 210.02,458.79 207.23,459.17 208.62,456.72 207.39,454.19 210.15,454.76"/><polygon points="12.76,461.21 12.31,464.06 14.41,466.05 11.56,466.50 10.32,469.11 9.00,466.54 6.14,466.17 8.18,464.12 7.65,461.28 10.22,462.59"/><polygon points="26.72,460.19 27.80,462.62 30.41,463.11 28.43,464.88 28.78,467.52 26.48,466.19 24.08,467.33 24.63,464.73 22.81,462.80 25.45,462.52"/><polygon points="36.38,461.20 36.02,463.63 37.81,465.31 35.39,465.71 34.34,467.94 33.21,465.76 30.77,465.45 32.50,463.70 32.03,461.29 34.23,462.38"/><polygon points="54.81,463.43 52.95,465.38 53.50,468.01 51.07,466.84 48.74,468.17 49.10,465.51 47.11,463.70 49.76,463.22 50.86,460.77 52.13,463.14"/><polygon points="76.38,460.03 76.72,462.72 79.13,463.97 76.67,465.13 76.23,467.81 74.37,465.82 71.69,466.23 73.00,463.85 71.78,461.42 74.45,461.93"/><polygon points="84.35,459.98 84.93,462.72 87.51,463.80 85.08,465.20 84.86,467.99 82.78,466.11 80.05,466.76 81.19,464.20 79.74,461.81 82.52,462.11"/><polygon points="102.28,461.38 102.05,463.95 104.03,465.60 101.51,466.17 100.56,468.57 99.23,466.35 96.66,466.19 98.36,464.24 97.73,461.74 100.10,462.76"/><polygon points="111.29,461.31 110.29,463.95 111.91,466.28 109.08,466.14 107.37,468.39 106.62,465.66 103.95,464.73 106.32,463.18 106.38,460.35 108.59,462.12"/><polygon points="128.16,462.63 126.36,464.58 126.95,467.17 124.54,466.06 122.26,467.42 122.57,464.79 120.57,463.04 123.17,462.52 124.22,460.08 125.52,462.39"/><polygon points="134.87,460.77 134.74,463.30 136.75,464.84 134.30,465.50 133.46,467.88 132.08,465.76 129.55,465.70 131.14,463.73 130.42,461.30 132.78,462.20"/><polygon points="151.87,461.29 151.25,463.75 152.94,465.65 150.40,465.83 149.11,468.02 148.16,465.66 145.68,465.11 147.63,463.48 147.39,460.95 149.54,462.30"/><polygon points="175.71,460.47 175.63,463.34 177.95,465.02 175.20,465.84 174.32,468.56 172.69,466.20 169.83,466.20 171.57,463.92 170.69,461.20 173.39,462.16"/><polygon points="185.75,462.97 184.01,464.87 184.59,467.38 182.25,466.31 180.05,467.64 180.33,465.08 178.39,463.40 180.91,462.88 181.92,460.51 183.18,462.75"/><polygon points="201.57,461.88 200.35,464.09 201.48,466.35 199.01,465.88 197.21,467.65 196.89,465.15 194.65,463.99 196.93,462.91 197.34,460.42 199.07,462.26"/><polygon points="23.42,467.47 24.14,470.16 26.76,471.10 24.42,472.61 24.34,475.40 22.18,473.64 19.51,474.42 20.51,471.82 18.94,469.53 21.72,469.68"/><polygon points="47.44,467.87 48.11,470.27 50.46,471.08 48.38,472.46 48.34,474.95 46.39,473.40 44.00,474.12 44.88,471.79 43.45,469.74 45.94,469.85"/><polygon points="58.38,469.25 57.34,471.53 58.62,473.68 56.13,473.39 54.48,475.28 53.99,472.82 51.68,471.83 53.87,470.61 54.09,468.11 55.94,469.81"/><polygon points="73.94,468.38 73.56,470.99 75.49,472.79 72.89,473.23 71.77,475.62 70.55,473.28 67.93,472.96 69.78,471.08 69.27,468.48 71.64,469.66"/><polygon points="99.07,467.94 98.40,470.53 100.15,472.55 97.48,472.71 96.10,475.00 95.12,472.51 92.52,471.91 94.59,470.21 94.36,467.55 96.61,468.98"/><polygon points="106.64,467.83 106.49,470.66 108.74,472.38 106.01,473.11 105.07,475.78 103.52,473.41 100.70,473.34 102.47,471.14 101.67,468.43 104.31,469.44"/><polygon points="132.29,468.77 131.03,471.39 132.47,473.91 129.59,473.52 127.64,475.67 127.12,472.82 124.47,471.62 127.03,470.25 127.34,467.36 129.44,469.36"/><polygon points="146.98,467.33 147.19,470.17 149.64,471.60 147.01,472.67 146.40,475.45 144.57,473.28 141.74,473.55 143.24,471.14 142.10,468.54 144.86,469.22"/><polygon points="171.44,467.88 171.30,470.43 173.31,472.00 170.84,472.65 169.97,475.05 168.59,472.90 166.04,472.82 167.66,470.84 166.95,468.38 169.33,469.31"/><polygon points="181.74,469.70 179.69,471.72 180.19,474.56 177.63,473.24 175.09,474.59 175.56,471.75 173.48,469.75 176.33,469.32 177.59,466.72 178.88,469.30"/><polygon points="198.25,469.00 196.86,471.42 198.07,473.93 195.35,473.36 193.33,475.28 193.03,472.51 190.58,471.19 193.12,470.05 193.62,467.31 195.49,469.38"/><polygon points="203.97,467.49 204.11,470.07 206.32,471.42 203.91,472.35 203.32,474.87 201.68,472.87 199.10,473.08 200.50,470.90 199.50,468.51 202.01,469.17"/><polygon points="11.99,475.10 11.42,477.80 13.31,479.79 10.57,480.09 9.26,482.51 8.13,479.99 5.42,479.49 7.47,477.64 7.11,474.91 9.50,476.29"/><polygon points="35.44,474.99 36.14,477.45 38.55,478.26 36.44,479.68 36.41,482.23 34.41,480.66 31.97,481.43 32.85,479.03 31.37,476.95 33.92,477.04"/><polygon points="44.52,474.93 44.73,477.72 47.15,479.12 44.56,480.19 43.97,482.92 42.16,480.79 39.38,481.08 40.85,478.69 39.72,476.13 42.43,476.79"/><polygon points="60.37,475.11 60.99,477.70 63.48,478.65 61.21,480.04 61.07,482.70 59.05,480.97 56.48,481.66 57.49,479.20 56.04,476.97 58.70,477.18"/><polygon points="71.56,477.29 69.66,479.19 70.15,481.83 67.75,480.62 65.39,481.90 65.81,479.25 63.86,477.40 66.51,476.97 67.67,474.54 68.89,476.94"/><polygon points="86.68,475.76 86.03,478.49 87.91,480.58 85.11,480.80 83.71,483.23 82.63,480.64 79.89,480.06 82.02,478.24 81.72,475.45 84.12,476.91"/><polygon points="94.38,475.85 93.47,478.15 94.85,480.20 92.38,480.04 90.86,481.99 90.24,479.60 87.92,478.75 90.00,477.42 90.09,474.95 92.00,476.52"/><polygon points="118.16,474.94 118.46,477.61 120.82,478.88 118.38,479.99 117.91,482.63 116.10,480.65 113.44,481.02 114.76,478.68 113.59,476.27 116.22,476.81"/><polygon points="136.54,475.92 135.31,478.38 136.64,480.80 133.92,480.39 132.03,482.40 131.58,479.68 129.08,478.51 131.53,477.24 131.87,474.50 133.84,476.44"/><polygon points="151.54,475.23 151.36,477.80 153.38,479.41 150.88,480.03 149.97,482.45 148.60,480.26 146.02,480.15 147.68,478.17 147.00,475.68 149.39,476.65"/><polygon points="160.27,475.54 159.12,478.00 160.49,480.35 157.79,480.01 155.99,482.04 155.47,479.37 152.98,478.28 155.36,476.97 155.63,474.26 157.61,476.12"/><polygon points="170.21,477.24 168.16,479.30 168.70,482.16 166.10,480.85 163.55,482.24 164.00,479.37 161.88,477.37 164.75,476.91 166.00,474.28 167.33,476.86"/><polygon points="182.60,474.20 183.62,476.73 186.29,477.32 184.20,479.07 184.46,481.79 182.14,480.35 179.64,481.43 180.30,478.79 178.49,476.74 181.21,476.55"/><polygon points="191.34,474.82 192.18,477.48 194.85,478.30 192.58,479.92 192.63,482.71 190.39,481.06 187.75,481.97 188.63,479.32 186.94,477.09 189.74,477.11"/><polygon points="206.90,474.58 207.67,477.07 210.16,477.86 208.02,479.36 208.04,481.97 205.95,480.40 203.48,481.22 204.33,478.75 202.78,476.65 205.39,476.70"/><polygon points="21.86,481.47 23.04,483.91 25.71,484.33 23.75,486.20 24.19,488.88 21.80,487.59 19.39,488.83 19.87,486.16 17.95,484.25 20.64,483.89"/><polygon points="33.96,484.51 32.11,486.40 32.62,489.00 30.25,487.83 27.94,489.12 28.32,486.50 26.38,484.70 28.99,484.25 30.10,481.85 31.33,484.19"/><polygon points="58.40,482.71 57.17,485.34 58.64,487.85 55.76,487.50 53.82,489.68 53.27,486.82 50.60,485.65 53.15,484.25 53.43,481.35 55.56,483.33"/><polygon points="64.64,482.02 64.94,484.77 67.37,486.09 64.85,487.22 64.35,489.94 62.49,487.89 59.75,488.26 61.13,485.86 59.93,483.36 62.64,483.93"/><polygon points="74.86,484.26 73.00,486.11 73.46,488.69 71.13,487.49 68.81,488.73 69.24,486.14 67.34,484.32 69.94,483.92 71.08,481.56 72.26,483.90"/><polygon points="81.65,481.99 81.46,484.67 83.57,486.34 80.96,487.00 80.02,489.52 78.59,487.24 75.90,487.13 77.63,485.06 76.91,482.47 79.40,483.48"/><polygon points="89.71,481.63 89.73,484.41 92.03,485.98 89.39,486.85 88.61,489.53 86.96,487.28 84.18,487.37 85.80,485.11 84.86,482.49 87.51,483.33"/><polygon points="107.51,483.30 105.82,485.58 106.74,488.26 104.05,487.36 101.79,489.06 101.82,486.22 99.50,484.59 102.20,483.74 103.04,481.04 104.68,483.35"/><polygon points="115.96,484.14 114.60,486.26 115.57,488.58 113.13,487.94 111.22,489.58 111.08,487.07 108.92,485.76 111.27,484.84 111.85,482.39 113.45,484.34"/><polygon points="131.06,482.64 130.34,485.01 131.88,486.94 129.41,486.99 128.04,489.06 127.23,486.72 124.85,486.06 126.82,484.57 126.71,482.09 128.74,483.51"/><polygon points="156.42,483.28 155.07,485.78 156.37,488.31 153.57,487.80 151.56,489.82 151.18,487.00 148.64,485.72 151.21,484.48 151.64,481.67 153.61,483.73"/><polygon points="181.13,482.65 180.33,485.23 182.00,487.35 179.30,487.38 177.79,489.62 176.93,487.07 174.33,486.33 176.50,484.72 176.40,482.02 178.60,483.58"/><polygon points="188.30,482.31 187.92,484.75 189.72,486.45 187.28,486.85 186.23,489.08 185.10,486.89 182.64,486.57 184.38,484.82 183.92,482.39 186.13,483.50"/><polygon points="205.73,482.95 204.84,485.43 206.38,487.56 203.75,487.49 202.19,489.61 201.45,487.08 198.95,486.26 201.12,484.77 201.13,482.14 203.22,483.75"/><polygon points="214.97,484.29 213.02,486.19 213.48,488.87 211.07,487.60 208.66,488.86 209.12,486.18 207.18,484.28 209.87,483.89 211.08,481.45 212.28,483.89"/><polygon points="21.23,490.83 20.02,493.07 21.19,495.34 18.68,494.88 16.89,496.69 16.55,494.17 14.27,493.02 16.57,491.92 16.95,489.40 18.71,491.24"/><polygon points="42.90,489.05 43.67,491.45 46.09,492.18 44.04,493.66 44.10,496.19 42.06,494.70 39.67,495.53 40.46,493.13 38.93,491.12 41.46,491.13"/><polygon points="70.73,491.31 68.75,493.15 69.14,495.83 66.78,494.51 64.36,495.72 64.88,493.06 62.99,491.13 65.67,490.80 66.93,488.41 68.06,490.86"/><polygon points="76.68,488.60 76.85,491.30 79.17,492.69 76.65,493.69 76.04,496.33 74.32,494.24 71.62,494.47 73.08,492.19 72.02,489.70 74.64,490.37"/><polygon points="92.09,488.96 93.07,491.42 95.64,492.01 93.61,493.69 93.84,496.32 91.61,494.91 89.18,495.95 89.84,493.39 88.10,491.40 90.73,491.23"/><polygon points="103.06,490.76 101.91,493.02 103.13,495.24 100.62,494.85 98.88,496.70 98.48,494.20 96.19,493.11 98.44,491.95 98.77,489.44 100.56,491.22"/><polygon points="119.68,491.26 118.01,493.28 118.72,495.79 116.28,494.83 114.11,496.28 114.28,493.67 112.22,492.05 114.76,491.40 115.67,488.95 117.06,491.16"/><polygon points="128.52,491.10 126.70,493.13 127.34,495.79 124.85,494.68 122.52,496.11 122.80,493.40 120.72,491.63 123.39,491.05 124.43,488.53 125.80,490.89"/><polygon points="144.92,490.87 143.06,493.07 143.80,495.85 141.14,494.75 138.73,496.32 138.95,493.45 136.71,491.64 139.51,490.96 140.54,488.27 142.05,490.73"/><polygon points="150.06,488.56 150.49,491.12 152.84,492.23 150.54,493.42 150.22,496.00 148.37,494.18 145.82,494.67 146.98,492.35 145.72,490.07 148.29,490.46"/><polygon points="169.20,490.90 167.40,493.14 168.22,495.89 165.53,494.87 163.16,496.50 163.30,493.63 161.02,491.88 163.80,491.13 164.76,488.41 166.33,490.82"/><polygon points="175.54,488.44 175.74,491.25 178.16,492.69 175.55,493.74 174.94,496.49 173.13,494.33 170.32,494.59 171.82,492.21 170.70,489.62 173.43,490.30"/><polygon points="192.64,489.57 192.02,492.21 193.83,494.22 191.13,494.44 189.78,496.79 188.74,494.29 186.08,493.73 188.14,491.96 187.85,489.27 190.17,490.68"/><polygon points="199.95,488.69 200.34,491.36 202.77,492.55 200.35,493.75 199.97,496.43 198.08,494.50 195.42,494.96 196.67,492.57 195.41,490.18 198.07,490.63"/></g><g fill="#bdbdbd" fill-opacity="0.9"><rect x="15.1" y="350.7" width="1.6" height="138.6"/><rect x="35.1" y="350.7" width="1.6" height="138.6"/><rect x="55.1" y="350.7" width="1.6" height="138.6"/><rect x="75.1" y="350.7" width="1.6" height="138.6"/><rect x="95.1" y="350.7" width="1.6" height="138.6"/><rect x="115.1" y="350.7" width="1.6" height="138.6"/><rect x="135.1" y="350.7" width="1.6" height="138.6"/><rect x="155.1" y="350.7" width="1.6" height="138.6"/><rect x="175.1" y="350.7" width="1.6" height="138.6"/><rect x="195.1" y="350.7" width="1.6" height="138.6"/><rect x="9.899999999999999" y="359.5" width="195.2" height="1.6"/><rect x="9.899999999999999" y="379.8" width="195.2" height="1.6"/><rect x="9.899999999999999" y="400.1" width="195.2" height="1.6"/><rect x="9.899999999999999" y="420.4" width="195.2" height="1.6"/><rect x="9.899999999999999" y="440.7" width="195.2" height="1.6"/><rect x="9.899999999999999" y="461.0" width="195.2" height="1.6"/><rect x="9.899999999999999" y="481.3" width="195.2" height="1.6"/></g></g><clipPath id="c1"><rect x="17.9" y="358.7" width="179.2" height="122.6"/></clipPath></defs>
<clipPath id="cl0"><rect x="35.00" y="340.00" width="179.00" height="122.50"/></clipPath>
<rect x="34.40" y="339.40" width="180.20" height="123.70" fill="#fff" />
<rect x="35.00" y="340.00" width="179.00" height="122.50" fill="#dcdcdc" />
<g clip-path="url(#cl0)" opacity="0.22"><use href="#tex" transform="translate(17.10,-19.30)"/></g>
<rect x="35.00" y="340.00" width="179.00" height="122.50" fill="none" stroke="#fff" stroke-width="1.1"/>
<clipPath id="cl1"><rect x="29.10" y="346.00" width="179.00" height="122.00"/></clipPath>
<rect x="28.50" y="345.40" width="180.20" height="123.20" fill="#fff" />
<rect x="29.10" y="346.00" width="179.00" height="122.00" fill="#acacac" />
<g clip-path="url(#cl1)" opacity="0.45"><use href="#tex" transform="translate(11.20,-13.30)"/></g>
<rect x="29.10" y="346.00" width="179.00" height="122.00" fill="none" stroke="#fff" stroke-width="1.1"/>
<clipPath id="cl2"><rect x="23.00" y="352.50" width="179.60" height="123.20"/></clipPath>
<rect x="22.40" y="351.90" width="180.80" height="124.40" fill="#fff" />
<rect x="23.00" y="352.50" width="179.60" height="123.20" fill="#8c8c8c" />
<g clip-path="url(#cl2)" opacity="0.65"><use href="#tex" transform="translate(5.10,-6.80)"/></g>
<rect x="23.00" y="352.50" width="179.60" height="123.20" fill="none" stroke="#fff" stroke-width="1.1"/>
<clipPath id="cl3"><rect x="17.90" y="358.70" width="179.20" height="122.60"/></clipPath>
<rect x="17.30" y="358.10" width="180.40" height="123.80" fill="#fff" />
<rect x="17.90" y="358.70" width="179.20" height="122.60" fill="#fff" />
<g clip-path="url(#cl3)" opacity="1.0"><use href="#tex" transform="translate(0.00,0.00)"/></g>
<rect x="17.90" y="358.70" width="179.20" height="122.60" fill="none" stroke="#fff" stroke-width="1.1"/>
<rect x="162.50" y="475.40" width="30.00" height="2.00" fill="#fff" />
<text x="177.50" y="471.60" font-size="7.2" font-weight="bold" text-anchor="middle" fill="#fff" stroke="#3a3a3a" stroke-width="1.4" paint-order="stroke" stroke-opacity="0.7">2 cm</text>
<line x1="201.00" y1="476.20" x2="214.50" y2="468.20" stroke="#555" stroke-width="0.9" />
<polygon points="199.50,477.00 203.80,473.10 205.20,475.60" fill="#555" />
<polygon points="216.00,467.30 211.70,471.20 210.30,468.70" fill="#555" />
<text x="0.00" y="0.00" font-size="6.1" font-weight="bold" text-anchor="middle" fill="#1a1a1a" transform="translate(211.9,479.6) rotate(-41)">Axial scan</text>
<text x="253.50" y="332.40" font-size="8.3" font-weight="bold" text-anchor="middle" fill="#000" >Center</text>
<text x="254.00" y="415.00" font-size="8.3" font-weight="bold" text-anchor="middle" fill="#000" >Edge</text>
<defs><filter id="bl" x="-5%" y="-5%" width="110%" height="110%"><feGaussianBlur stdDeviation="0.45"/></filter></defs>
<g filter="url(#bl)"><rect x="223.60" y="340.20" width="59.20" height="58.80" fill="#ebebeb"/><text x="238.00" y="349.50" font-size="6.8" fill="#7a7a7a" text-anchor="middle">4</text><text x="272.20" y="350.80" font-size="9.2" fill="#8a8a8a" text-anchor="middle">5</text><text x="224.70" y="360.60" font-size="11.5" fill="#858585" text-anchor="start">2</text><text x="225.90" y="370.70" font-size="10.3" fill="#858585" text-anchor="start">3</text><text x="225.80" y="379.30" font-size="8.5" fill="#858585" text-anchor="start">4</text><text x="226.20" y="387.10" font-size="7.5" fill="#858585" text-anchor="start">5</text><text x="226.40" y="393.80" font-size="6.5" fill="#858585" text-anchor="start">6</text><rect x="233.50" y="353.00" width="7.50" height="1.60" fill="#585858"/><rect x="233.50" y="356.20" width="7.50" height="1.60" fill="#585858"/><rect x="233.50" y="359.40" width="7.50" height="1.60" fill="#585858"/><rect x="233.10" y="363.60" width="6.80" height="1.42" fill="#585858"/><rect x="233.10" y="366.44" width="6.80" height="1.42" fill="#585858"/><rect x="233.10" y="369.28" width="6.80" height="1.42" fill="#585858"/><rect x="233.10" y="373.50" width="6.40" height="1.22" fill="#585858"/><rect x="233.10" y="375.94" width="6.40" height="1.22" fill="#585858"/><rect x="233.10" y="378.38" width="6.40" height="1.22" fill="#585858"/><rect x="233.10" y="381.70" width="5.40" height="1.06" fill="#585858"/><rect x="233.10" y="383.82" width="5.40" height="1.06" fill="#585858"/><rect x="233.10" y="385.94" width="5.40" height="1.06" fill="#585858"/><rect x="233.10" y="389.00" width="4.70" height="1.00" fill="#585858"/><rect x="233.10" y="391.00" width="4.70" height="1.00" fill="#585858"/><rect x="233.10" y="393.00" width="4.70" height="1.00" fill="#585858"/><rect x="244.00" y="352.40" width="1.76" height="8.30" fill="#585858"/><rect x="247.52" y="352.40" width="1.76" height="8.30" fill="#585858"/><rect x="251.04" y="352.40" width="1.76" height="8.30" fill="#585858"/><rect x="243.20" y="363.30" width="1.54" height="7.40" fill="#585858"/><rect x="246.28" y="363.30" width="1.54" height="7.40" fill="#585858"/><rect x="249.36" y="363.30" width="1.54" height="7.40" fill="#585858"/><rect x="242.10" y="373.50" width="1.32" height="6.10" fill="#585858"/><rect x="244.74" y="373.50" width="1.32" height="6.10" fill="#585858"/><rect x="247.38" y="373.50" width="1.32" height="6.10" fill="#585858"/><rect x="241.00" y="381.70" width="1.12" height="5.30" fill="#585858"/><rect x="243.24" y="381.70" width="1.12" height="5.30" fill="#585858"/><rect x="245.48" y="381.70" width="1.12" height="5.30" fill="#585858"/><rect x="240.00" y="389.00" width="1.02" height="5.00" fill="#585858"/><rect x="242.04" y="389.00" width="1.02" height="5.00" fill="#585858"/><rect x="244.08" y="389.00" width="1.02" height="5.00" fill="#585858"/><rect x="256.20" y="352.80" width="8.20" height="7.90" fill="#404040"/><rect x="266.10" y="352.80" width="1.04" height="4.60" fill="#6a6a6a"/><rect x="268.18" y="352.80" width="1.04" height="4.60" fill="#6a6a6a"/><rect x="270.26" y="352.80" width="1.04" height="4.60" fill="#6a6a6a"/><rect x="273.00" y="352.80" width="4.20" height="0.92" fill="#6a6a6a"/><rect x="273.00" y="354.64" width="4.20" height="0.92" fill="#6a6a6a"/><rect x="273.00" y="356.48" width="4.20" height="0.92" fill="#6a6a6a"/><text x="280.20" y="356.94" font-size="5.199999999999999" fill="#9a9a9a" text-anchor="middle">1</text><rect x="266.50" y="357.10" width="0.93" height="4.09" fill="#6a6a6a"/><rect x="268.35" y="357.10" width="0.93" height="4.09" fill="#6a6a6a"/><rect x="270.20" y="357.10" width="0.93" height="4.09" fill="#6a6a6a"/><rect x="273.00" y="357.10" width="3.74" height="0.82" fill="#6a6a6a"/><rect x="273.00" y="358.74" width="3.74" height="0.82" fill="#6a6a6a"/><rect x="273.00" y="360.38" width="3.74" height="0.82" fill="#6a6a6a"/><text x="280.20" y="360.78" font-size="4.693999999999999" fill="#9a9a9a" text-anchor="middle">2</text><rect x="266.90" y="361.40" width="0.82" height="3.64" fill="#6a6a6a"/><rect x="268.55" y="361.40" width="0.82" height="3.64" fill="#6a6a6a"/><rect x="270.20" y="361.40" width="0.82" height="3.64" fill="#6a6a6a"/><rect x="273.00" y="361.40" width="3.33" height="0.73" fill="#6a6a6a"/><rect x="273.00" y="362.86" width="3.33" height="0.73" fill="#6a6a6a"/><rect x="273.00" y="364.31" width="3.33" height="0.73" fill="#6a6a6a"/><text x="280.20" y="364.68" font-size="4.243659999999999" fill="#9a9a9a" text-anchor="middle">3</text><rect x="267.30" y="365.70" width="0.73" height="3.24" fill="#6a6a6a"/><rect x="268.77" y="365.70" width="0.73" height="3.24" fill="#6a6a6a"/><rect x="270.23" y="365.70" width="0.73" height="3.24" fill="#6a6a6a"/><rect x="273.00" y="365.70" width="2.96" height="0.65" fill="#6a6a6a"/><rect x="273.00" y="367.00" width="2.96" height="0.65" fill="#6a6a6a"/><rect x="273.00" y="368.29" width="2.96" height="0.65" fill="#6a6a6a"/><text x="280.20" y="368.62" font-size="3.8428574" fill="#9a9a9a" text-anchor="middle">4</text><rect x="267.70" y="370.00" width="0.65" height="2.89" fill="#6a6a6a"/><rect x="269.01" y="370.00" width="0.65" height="2.89" fill="#6a6a6a"/><rect x="270.31" y="370.00" width="0.65" height="2.89" fill="#6a6a6a"/><rect x="273.00" y="370.00" width="2.64" height="0.58" fill="#6a6a6a"/><rect x="273.00" y="371.15" width="2.64" height="0.58" fill="#6a6a6a"/><rect x="273.00" y="372.31" width="2.64" height="0.58" fill="#6a6a6a"/><text x="280.20" y="372.60" font-size="3.486143086" fill="#9a9a9a" text-anchor="middle">5</text><rect x="268.10" y="374.30" width="0.58" height="2.57" fill="#6a6a6a"/><rect x="269.26" y="374.30" width="0.58" height="2.57" fill="#6a6a6a"/><rect x="270.42" y="374.30" width="0.58" height="2.57" fill="#6a6a6a"/><rect x="273.00" y="374.30" width="2.35" height="0.51" fill="#6a6a6a"/><rect x="273.00" y="375.33" width="2.35" height="0.51" fill="#6a6a6a"/><rect x="273.00" y="376.35" width="2.35" height="0.51" fill="#6a6a6a"/><text x="280.20" y="376.61" font-size="3.1686673465400004" fill="#9a9a9a" text-anchor="middle">6</text><rect x="251.40" y="385.40" width="2.02" height="9.00" fill="#585858"/><rect x="255.44" y="385.40" width="2.02" height="9.00" fill="#585858"/><rect x="259.48" y="385.40" width="2.02" height="9.00" fill="#585858"/><rect x="264.70" y="385.80" width="9.30" height="1.76" fill="#585858"/><rect x="264.70" y="389.32" width="9.30" height="1.76" fill="#585858"/><rect x="264.70" y="392.84" width="9.30" height="1.76" fill="#585858"/><text x="279.40" y="394.60" font-size="12.8" fill="#8a8a8a" text-anchor="middle">1</text><rect x="253.00" y="367.50" width="0.80" height="8.00" fill="#a5a5a5"/><rect x="254.40" y="367.50" width="0.80" height="8.00" fill="#a5a5a5"/><rect x="255.80" y="367.50" width="0.80" height="8.00" fill="#a5a5a5"/><rect x="258.00" y="368.00" width="4.00" height="0.80" fill="#a0a0a0"/><rect x="258.00" y="369.60" width="4.00" height="0.80" fill="#a0a0a0"/><rect x="258.00" y="371.20" width="4.00" height="0.80" fill="#a0a0a0"/><rect x="262.00" y="369.00" width="1.60" height="1.60" fill="#707070"/><rect x="260.00" y="372.50" width="0.60" height="4.50" fill="#aaaaaa"/><rect x="261.10" y="372.50" width="0.60" height="4.50" fill="#aaaaaa"/><rect x="262.20" y="372.50" width="0.60" height="4.50" fill="#aaaaaa"/><rect x="257.00" y="377.00" width="3.00" height="0.50" fill="#b0b0b0"/><rect x="257.00" y="378.00" width="3.00" height="0.50" fill="#b0b0b0"/><rect x="257.00" y="379.00" width="3.00" height="0.50" fill="#b0b0b0"/></g>
<g filter="url(#bl)"><rect x="224.00" y="422.60" width="59.20" height="58.80" fill="#ebebeb"/><text x="238.40" y="431.90" font-size="6.8" fill="#7a7a7a" text-anchor="middle">4</text><text x="272.60" y="433.20" font-size="9.2" fill="#8a8a8a" text-anchor="middle">5</text><text x="225.10" y="443.00" font-size="11.5" fill="#858585" text-anchor="start">2</text><text x="226.30" y="453.10" font-size="10.3" fill="#858585" text-anchor="start">3</text><text x="226.20" y="461.70" font-size="8.5" fill="#858585" text-anchor="start">4</text><text x="226.60" y="469.50" font-size="7.5" fill="#858585" text-anchor="start">5</text><text x="226.80" y="476.20" font-size="6.5" fill="#858585" text-anchor="start">6</text><rect x="233.90" y="435.40" width="7.50" height="1.60" fill="#585858"/><rect x="233.90" y="438.60" width="7.50" height="1.60" fill="#585858"/><rect x="233.90" y="441.80" width="7.50" height="1.60" fill="#585858"/><rect x="233.50" y="446.00" width="6.80" height="1.42" fill="#585858"/><rect x="233.50" y="448.84" width="6.80" height="1.42" fill="#585858"/><rect x="233.50" y="451.68" width="6.80" height="1.42" fill="#585858"/><rect x="233.50" y="455.90" width="6.40" height="1.22" fill="#585858"/><rect x="233.50" y="458.34" width="6.40" height="1.22" fill="#585858"/><rect x="233.50" y="460.78" width="6.40" height="1.22" fill="#585858"/><rect x="233.50" y="464.10" width="5.40" height="1.06" fill="#585858"/><rect x="233.50" y="466.22" width="5.40" height="1.06" fill="#585858"/><rect x="233.50" y="468.34" width="5.40" height="1.06" fill="#585858"/><rect x="233.50" y="471.40" width="4.70" height="1.00" fill="#585858"/><rect x="233.50" y="473.40" width="4.70" height="1.00" fill="#585858"/><rect x="233.50" y="475.40" width="4.70" height="1.00" fill="#585858"/><rect x="244.40" y="434.80" width="1.76" height="8.30" fill="#585858"/><rect x="247.92" y="434.80" width="1.76" height="8.30" fill="#585858"/><rect x="251.44" y="434.80" width="1.76" height="8.30" fill="#585858"/><rect x="243.60" y="445.70" width="1.54" height="7.40" fill="#585858"/><rect x="246.68" y="445.70" width="1.54" height="7.40" fill="#585858"/><rect x="249.76" y="445.70" width="1.54" height="7.40" fill="#585858"/><rect x="242.50" y="455.90" width="1.32" height="6.10" fill="#585858"/><rect x="245.14" y="455.90" width="1.32" height="6.10" fill="#585858"/><rect x="247.78" y="455.90" width="1.32" height="6.10" fill="#585858"/><rect x="241.40" y="464.10" width="1.12" height="5.30" fill="#585858"/><rect x="243.64" y="464.10" width="1.12" height="5.30" fill="#585858"/><rect x="245.88" y="464.10" width="1.12" height="5.30" fill="#585858"/><rect x="240.40" y="471.40" width="1.02" height="5.00" fill="#585858"/><rect x="242.44" y="471.40" width="1.02" height="5.00" fill="#585858"/><rect x="244.48" y="471.40" width="1.02" height="5.00" fill="#585858"/><rect x="256.60" y="435.20" width="8.20" height="7.90" fill="#404040"/><rect x="266.50" y="435.20" width="1.04" height="4.60" fill="#6a6a6a"/><rect x="268.58" y="435.20" width="1.04" height="4.60" fill="#6a6a6a"/><rect x="270.66" y="435.20" width="1.04" height="4.60" fill="#6a6a6a"/><rect x="273.40" y="435.20" width="4.20" height="0.92" fill="#6a6a6a"/><rect x="273.40" y="437.04" width="4.20" height="0.92" fill="#6a6a6a"/><rect x="273.40" y="438.88" width="4.20" height="0.92" fill="#6a6a6a"/><text x="280.60" y="439.34" font-size="5.199999999999999" fill="#9a9a9a" text-anchor="middle">1</text><rect x="266.90" y="439.50" width="0.93" height="4.09" fill="#6a6a6a"/><rect x="268.75" y="439.50" width="0.93" height="4.09" fill="#6a6a6a"/><rect x="270.60" y="439.50" width="0.93" height="4.09" fill="#6a6a6a"/><rect x="273.40" y="439.50" width="3.74" height="0.82" fill="#6a6a6a"/><rect x="273.40" y="441.14" width="3.74" height="0.82" fill="#6a6a6a"/><rect x="273.40" y="442.78" width="3.74" height="0.82" fill="#6a6a6a"/><text x="280.60" y="443.18" font-size="4.693999999999999" fill="#9a9a9a" text-anchor="middle">2</text><rect x="267.30" y="443.80" width="0.82" height="3.64" fill="#6a6a6a"/><rect x="268.95" y="443.80" width="0.82" height="3.64" fill="#6a6a6a"/><rect x="270.60" y="443.80" width="0.82" height="3.64" fill="#6a6a6a"/><rect x="273.40" y="443.80" width="3.33" height="0.73" fill="#6a6a6a"/><rect x="273.40" y="445.26" width="3.33" height="0.73" fill="#6a6a6a"/><rect x="273.40" y="446.71" width="3.33" height="0.73" fill="#6a6a6a"/><text x="280.60" y="447.08" font-size="4.243659999999999" fill="#9a9a9a" text-anchor="middle">3</text><rect x="267.70" y="448.10" width="0.73" height="3.24" fill="#6a6a6a"/><rect x="269.17" y="448.10" width="0.73" height="3.24" fill="#6a6a6a"/><rect x="270.63" y="448.10" width="0.73" height="3.24" fill="#6a6a6a"/><rect x="273.40" y="448.10" width="2.96" height="0.65" fill="#6a6a6a"/><rect x="273.40" y="449.40" width="2.96" height="0.65" fill="#6a6a6a"/><rect x="273.40" y="450.69" width="2.96" height="0.65" fill="#6a6a6a"/><text x="280.60" y="451.02" font-size="3.8428574" fill="#9a9a9a" text-anchor="middle">4</text><rect x="268.10" y="452.40" width="0.65" height="2.89" fill="#6a6a6a"/><rect x="269.41" y="452.40" width="0.65" height="2.89" fill="#6a6a6a"/><rect x="270.71" y="452.40" width="0.65" height="2.89" fill="#6a6a6a"/><rect x="273.40" y="452.40" width="2.64" height="0.58" fill="#6a6a6a"/><rect x="273.40" y="453.55" width="2.64" height="0.58" fill="#6a6a6a"/><rect x="273.40" y="454.71" width="2.64" height="0.58" fill="#6a6a6a"/><text x="280.60" y="455.00" font-size="3.486143086" fill="#9a9a9a" text-anchor="middle">5</text><rect x="268.50" y="456.70" width="0.58" height="2.57" fill="#6a6a6a"/><rect x="269.66" y="456.70" width="0.58" height="2.57" fill="#6a6a6a"/><rect x="270.82" y="456.70" width="0.58" height="2.57" fill="#6a6a6a"/><rect x="273.40" y="456.70" width="2.35" height="0.51" fill="#6a6a6a"/><rect x="273.40" y="457.73" width="2.35" height="0.51" fill="#6a6a6a"/><rect x="273.40" y="458.75" width="2.35" height="0.51" fill="#6a6a6a"/><text x="280.60" y="459.01" font-size="3.1686673465400004" fill="#9a9a9a" text-anchor="middle">6</text><rect x="251.80" y="467.80" width="2.02" height="9.00" fill="#585858"/><rect x="255.84" y="467.80" width="2.02" height="9.00" fill="#585858"/><rect x="259.88" y="467.80" width="2.02" height="9.00" fill="#585858"/><rect x="265.10" y="468.20" width="9.30" height="1.76" fill="#585858"/><rect x="265.10" y="471.72" width="9.30" height="1.76" fill="#585858"/><rect x="265.10" y="475.24" width="9.30" height="1.76" fill="#585858"/><text x="279.80" y="477.00" font-size="12.8" fill="#8a8a8a" text-anchor="middle">1</text><rect x="253.40" y="449.90" width="0.80" height="8.00" fill="#a5a5a5"/><rect x="254.80" y="449.90" width="0.80" height="8.00" fill="#a5a5a5"/><rect x="256.20" y="449.90" width="0.80" height="8.00" fill="#a5a5a5"/><rect x="258.40" y="450.40" width="4.00" height="0.80" fill="#a0a0a0"/><rect x="258.40" y="452.00" width="4.00" height="0.80" fill="#a0a0a0"/><rect x="258.40" y="453.60" width="4.00" height="0.80" fill="#a0a0a0"/><rect x="262.40" y="451.40" width="1.60" height="1.60" fill="#707070"/><rect x="260.40" y="454.90" width="0.60" height="4.50" fill="#aaaaaa"/><rect x="261.50" y="454.90" width="0.60" height="4.50" fill="#aaaaaa"/><rect x="262.60" y="454.90" width="0.60" height="4.50" fill="#aaaaaa"/><rect x="257.40" y="459.40" width="3.00" height="0.50" fill="#b0b0b0"/><rect x="257.40" y="460.40" width="3.00" height="0.50" fill="#b0b0b0"/><rect x="257.40" y="461.40" width="3.00" height="0.50" fill="#b0b0b0"/></g>
<text x="291.40" y="323.40" font-size="12" font-weight="bold" text-anchor="start" fill="#000" >e</text>
<rect x="326.4" y="340.7" width="157.80" height="120.60" fill="none" stroke="#3a3a3a" stroke-width="0.9"/>
<line x1="323.80" y1="340.70" x2="326.40" y2="340.70" stroke="#3a3a3a" stroke-width="0.8" />
<text x="322.40" y="343.60" font-size="7.6" fill="#222" text-anchor="end">10<tspan font-size="5.6" dy="-3.6">0</tspan></text>
<line x1="325.00" y1="382.85" x2="326.40" y2="382.85" stroke="#3a3a3a" stroke-width="0.6" />
<line x1="325.00" y1="372.23" x2="326.40" y2="372.23" stroke="#3a3a3a" stroke-width="0.6" />
<line x1="325.00" y1="364.70" x2="326.40" y2="364.70" stroke="#3a3a3a" stroke-width="0.6" />
<line x1="325.00" y1="358.85" x2="326.40" y2="358.85" stroke="#3a3a3a" stroke-width="0.6" />
<line x1="325.00" y1="354.08" x2="326.40" y2="354.08" stroke="#3a3a3a" stroke-width="0.6" />
<line x1="325.00" y1="350.04" x2="326.40" y2="350.04" stroke="#3a3a3a" stroke-width="0.6" />
<line x1="325.00" y1="346.54" x2="326.40" y2="346.54" stroke="#3a3a3a" stroke-width="0.6" />
<line x1="325.00" y1="343.46" x2="326.40" y2="343.46" stroke="#3a3a3a" stroke-width="0.6" />
<line x1="323.80" y1="401.00" x2="326.40" y2="401.00" stroke="#3a3a3a" stroke-width="0.8" />
<text x="322.40" y="403.90" font-size="7.6" fill="#222" text-anchor="end">10<tspan font-size="5.6" dy="-3.6">−1</tspan></text>
<line x1="325.00" y1="443.15" x2="326.40" y2="443.15" stroke="#3a3a3a" stroke-width="0.6" />
<line x1="325.00" y1="432.53" x2="326.40" y2="432.53" stroke="#3a3a3a" stroke-width="0.6" />
<line x1="325.00" y1="425.00" x2="326.40" y2="425.00" stroke="#3a3a3a" stroke-width="0.6" />
<line x1="325.00" y1="419.15" x2="326.40" y2="419.15" stroke="#3a3a3a" stroke-width="0.6" />
<line x1="325.00" y1="414.38" x2="326.40" y2="414.38" stroke="#3a3a3a" stroke-width="0.6" />
<line x1="325.00" y1="410.34" x2="326.40" y2="410.34" stroke="#3a3a3a" stroke-width="0.6" />
<line x1="325.00" y1="406.84" x2="326.40" y2="406.84" stroke="#3a3a3a" stroke-width="0.6" />
<line x1="325.00" y1="403.76" x2="326.40" y2="403.76" stroke="#3a3a3a" stroke-width="0.6" />
<line x1="323.80" y1="461.30" x2="326.40" y2="461.30" stroke="#3a3a3a" stroke-width="0.8" />
<text x="322.40" y="464.20" font-size="7.6" fill="#222" text-anchor="end">10<tspan font-size="5.6" dy="-3.6">−2</tspan></text>
<line x1="326.40" y1="461.30" x2="326.40" y2="463.90" stroke="#3a3a3a" stroke-width="0.8" />
<line x1="409.10" y1="461.30" x2="409.10" y2="463.90" stroke="#3a3a3a" stroke-width="0.8" />
<line x1="351.30" y1="461.30" x2="351.30" y2="462.70" stroke="#3a3a3a" stroke-width="0.6" />
<line x1="365.86" y1="461.30" x2="365.86" y2="462.70" stroke="#3a3a3a" stroke-width="0.6" />
<line x1="376.19" y1="461.30" x2="376.19" y2="462.70" stroke="#3a3a3a" stroke-width="0.6" />
<line x1="384.20" y1="461.30" x2="384.20" y2="462.70" stroke="#3a3a3a" stroke-width="0.6" />
<line x1="390.75" y1="461.30" x2="390.75" y2="462.70" stroke="#3a3a3a" stroke-width="0.6" />
<line x1="396.29" y1="461.30" x2="396.29" y2="462.70" stroke="#3a3a3a" stroke-width="0.6" />
<line x1="401.09" y1="461.30" x2="401.09" y2="462.70" stroke="#3a3a3a" stroke-width="0.6" />
<line x1="405.32" y1="461.30" x2="405.32" y2="462.70" stroke="#3a3a3a" stroke-width="0.6" />
<line x1="434.00" y1="461.30" x2="434.00" y2="462.70" stroke="#3a3a3a" stroke-width="0.6" />
<line x1="448.56" y1="461.30" x2="448.56" y2="462.70" stroke="#3a3a3a" stroke-width="0.6" />
<line x1="458.89" y1="461.30" x2="458.89" y2="462.70" stroke="#3a3a3a" stroke-width="0.6" />
<line x1="466.90" y1="461.30" x2="466.90" y2="462.70" stroke="#3a3a3a" stroke-width="0.6" />
<line x1="473.45" y1="461.30" x2="473.45" y2="462.70" stroke="#3a3a3a" stroke-width="0.6" />
<line x1="478.99" y1="461.30" x2="478.99" y2="462.70" stroke="#3a3a3a" stroke-width="0.6" />
<line x1="483.79" y1="461.30" x2="483.79" y2="462.70" stroke="#3a3a3a" stroke-width="0.6" />
<text x="326.40" y="471.10" font-size="7.6" font-weight="normal" text-anchor="middle" fill="#222" >1</text>
<text x="409.10" y="471.10" font-size="7.6" font-weight="normal" text-anchor="middle" fill="#222" >10</text>
<text x="466.90" y="471.10" font-size="7.6" font-weight="normal" text-anchor="middle" fill="#222" >50</text>
<line x1="326.40" y1="412.60" x2="484.20" y2="412.60" stroke="#f08a8a" stroke-width="1.1" stroke-dasharray="4.6,2.6"/>
<text x="329.00" y="408.50" font-size="9.0" font-weight="normal" text-anchor="start" fill="#f4a0a0" >noise</text>
<path d="M326.4,356.1L328.4,359.6L324.4,359.6ZM327.3,354.1L329.3,357.5L325.4,357.5ZM328.3,353.3L330.3,356.7L326.3,356.7ZM329.2,355.3L331.2,358.8L327.2,358.8ZM330.2,356.4L332.2,359.9L328.2,359.9ZM331.1,354.8L333.1,358.3L329.1,358.3ZM332.1,354.2L334.1,357.6L330.1,357.6ZM333.0,353.4L335.0,356.8L331.0,356.8ZM334.0,356.5L336.0,359.9L332.0,359.9ZM334.9,356.7L336.9,360.1L332.9,360.1ZM335.9,354.1L337.8,357.5L333.9,357.5ZM336.8,354.4L338.8,357.9L334.8,357.9ZM337.7,353.1L339.7,356.5L335.7,356.5ZM338.7,353.9L340.7,357.3L336.7,357.3ZM339.6,355.4L341.6,358.8L337.6,358.8ZM340.6,355.7L342.6,359.1L338.6,359.1ZM341.5,352.0L343.5,355.4L339.5,355.4ZM342.5,355.8L344.5,359.2L340.5,359.2ZM343.4,356.5L345.4,360.0L341.4,360.0ZM344.4,357.1L346.4,360.5L342.4,360.5ZM345.3,355.5L347.3,358.9L343.3,358.9ZM346.3,355.5L348.2,358.9L344.3,358.9ZM347.2,356.2L349.2,359.7L345.2,359.7ZM348.1,355.9L350.1,359.4L346.1,359.4ZM349.1,355.6L351.1,359.0L347.1,359.0ZM350.0,355.1L352.0,358.5L348.0,358.5ZM351.0,354.7L353.0,358.1L349.0,358.1ZM351.9,355.9L353.9,359.3L349.9,359.3ZM352.9,358.6L354.9,362.0L350.9,362.0ZM353.8,355.5L355.8,358.9L351.8,358.9ZM354.8,358.3L356.8,361.7L352.8,361.7ZM355.7,356.8L357.7,360.2L353.7,360.2ZM356.7,358.6L358.6,362.0L354.7,362.0ZM357.6,356.8L359.6,360.2L355.6,360.2ZM358.5,357.9L360.5,361.3L356.5,361.3ZM359.5,356.7L361.5,360.1L357.5,360.1ZM360.4,352.7L362.4,356.2L358.4,356.2ZM361.4,357.2L363.4,360.7L359.4,360.7ZM362.3,356.2L364.3,359.6L360.3,359.6ZM363.3,359.1L365.3,362.6L361.3,362.6ZM364.2,357.9L366.2,361.3L362.2,361.3ZM365.2,356.8L367.2,360.2L363.2,360.2ZM366.1,357.9L368.1,361.3L364.1,361.3ZM367.1,357.4L369.0,360.8L365.1,360.8ZM368.0,357.9L370.0,361.3L366.0,361.3ZM368.9,359.5L370.9,362.9L366.9,362.9ZM369.9,357.6L371.9,361.0L367.9,361.0ZM370.8,359.5L372.8,362.9L368.8,362.9ZM371.8,356.2L373.8,359.6L369.8,359.6ZM372.7,359.4L374.7,362.8L370.7,362.8ZM373.7,358.0L375.7,361.4L371.7,361.4ZM374.6,359.1L376.6,362.5L372.6,362.5ZM375.6,358.0L377.6,361.4L373.6,361.4ZM376.5,360.2L378.5,363.6L374.5,363.6ZM377.5,358.3L379.4,361.7L375.5,361.7ZM378.4,359.9L380.4,363.3L376.4,363.3ZM379.3,358.3L381.3,361.7L377.3,361.7ZM380.3,359.3L382.3,362.7L378.3,362.7ZM381.2,360.1L383.2,363.6L379.2,363.6ZM382.2,361.5L384.2,365.0L380.2,365.0ZM383.1,359.7L385.1,363.1L381.1,363.1ZM384.1,360.3L386.1,363.7L382.1,363.7ZM385.0,359.0L387.0,362.4L383.0,362.4ZM386.0,361.9L388.0,365.3L384.0,365.3ZM386.9,360.9L388.9,364.3L384.9,364.3ZM387.9,361.1L389.8,364.6L385.9,364.6ZM388.8,361.7L390.8,365.1L386.8,365.1ZM389.7,362.0L391.7,365.4L387.7,365.4ZM390.7,362.3L392.7,365.7L388.7,365.7ZM391.6,363.6L393.6,367.0L389.6,367.0ZM392.6,364.4L394.6,367.8L390.6,367.8ZM393.5,363.9L395.5,367.3L391.5,367.3ZM394.5,362.8L396.5,366.3L392.5,366.3ZM395.4,361.9L397.4,365.3L393.4,365.3ZM396.4,362.9L398.4,366.3L394.4,366.3ZM397.3,363.1L399.3,366.5L395.3,366.5ZM398.2,363.8L400.2,367.2L396.3,367.2ZM399.2,364.2L401.2,367.6L397.2,367.6ZM400.1,365.2L402.1,368.6L398.1,368.6ZM401.1,364.8L403.1,368.2L399.1,368.2ZM448.9,402.1L450.9,405.5L446.9,405.5ZM443.2,397.6L445.2,401.0L441.2,401.0ZM398.3,371.8L400.2,375.3L396.3,375.3ZM427.0,384.7L429.0,388.1L425.0,388.1ZM390.9,365.2L392.9,368.6L388.9,368.6ZM401.4,365.1L403.4,368.5L399.4,368.5ZM435.7,387.7L437.7,391.1L433.7,391.1ZM389.1,364.9L391.1,368.4L387.1,368.4ZM390.2,364.8L392.2,368.2L388.2,368.2ZM424.3,378.3L426.3,381.8L422.3,381.8ZM409.0,380.6L411.0,384.0L407.0,384.0ZM416.5,375.4L418.5,378.9L414.5,378.9ZM422.5,377.4L424.5,380.9L420.5,380.9ZM394.5,365.0L396.5,368.5L392.5,368.5ZM444.8,396.9L446.8,400.3L442.8,400.3ZM396.9,366.9L398.9,370.3L394.9,370.3ZM433.5,386.8L435.5,390.2L431.5,390.2ZM447.6,400.0L449.5,403.4L445.6,403.4ZM443.0,397.5L445.0,401.0L441.0,401.0ZM391.1,364.9L393.1,368.4L389.1,368.4ZM386.8,364.3L388.8,367.7L384.8,367.7ZM431.2,382.5L433.2,385.9L429.2,385.9ZM401.3,368.0L403.3,371.4L399.3,371.4ZM403.8,372.0L405.8,375.5L401.8,375.5ZM395.9,363.4L397.9,366.8L393.9,366.8ZM399.4,366.1L401.4,369.5L397.4,369.5ZM421.5,378.9L423.5,382.3L419.5,382.3ZM402.9,371.2L404.9,374.6L400.9,374.6ZM445.4,396.2L447.4,399.7L443.4,399.7ZM402.2,366.0L404.1,369.5L400.2,369.5ZM413.9,373.3L415.9,376.7L411.9,376.7ZM408.8,369.0L410.8,372.4L406.8,372.4ZM422.4,378.5L424.3,381.9L420.4,381.9ZM443.6,397.5L445.6,400.9L441.6,400.9ZM449.6,405.9L451.6,409.3L447.6,409.3ZM423.2,382.3L425.2,385.8L421.2,385.8ZM393.6,363.3L395.6,366.7L391.6,366.7ZM444.9,395.6L446.9,399.0L442.9,399.0ZM430.9,382.4L432.9,385.9L428.9,385.9ZM426.6,378.3L428.6,381.7L424.6,381.7ZM416.4,372.1L418.4,375.5L414.4,375.5ZM450.8,407.8L452.8,411.2L448.8,411.2ZM389.2,369.3L391.2,372.7L387.2,372.7ZM444.2,397.0L446.2,400.5L442.2,400.5ZM433.3,386.1L435.3,389.5L431.4,389.5ZM445.2,404.7L447.2,408.1L443.2,408.1ZM407.7,371.8L409.7,375.2L405.7,375.2ZM442.3,402.7L444.3,406.1L440.3,406.1ZM412.0,371.9L414.0,375.4L410.0,375.4ZM422.4,385.3L424.4,388.7L420.4,388.7ZM425.9,382.6L427.9,386.0L423.9,386.0ZM424.8,381.4L426.8,384.8L422.8,384.8ZM389.6,371.8L391.5,375.2L387.6,375.2ZM442.9,405.7L444.9,409.2L440.9,409.2ZM432.8,389.4L434.8,392.9L430.8,392.9ZM422.9,381.0L424.9,384.4L420.9,384.4ZM413.6,371.2L415.6,374.6L411.6,374.6ZM434.2,386.1L436.2,389.5L432.2,389.5ZM386.2,365.2L388.2,368.6L384.2,368.6ZM399.6,367.8L401.5,371.2L397.6,371.2ZM430.8,388.5L432.8,391.9L428.8,391.9ZM445.6,396.4L447.6,399.8L443.6,399.8ZM401.3,369.2L403.3,372.6L399.3,372.6ZM429.4,380.5L431.4,383.9L427.4,383.9ZM397.7,369.1L399.7,372.5L395.7,372.5ZM428.2,389.2L430.2,392.6L426.2,392.6ZM413.7,373.7L415.7,377.2L411.7,377.2ZM428.6,382.5L430.6,385.9L426.6,385.9ZM397.4,372.1L399.4,375.5L395.4,375.5ZM445.2,399.7L447.2,403.1L443.2,403.1ZM442.9,398.2L444.9,401.6L440.9,401.6ZM405.3,370.9L407.3,374.4L403.3,374.4ZM393.3,372.2L395.3,375.6L391.3,375.6ZM440.8,390.9L442.8,394.3L438.8,394.3ZM431.6,386.0L433.6,389.4L429.6,389.4ZM395.5,364.2L397.5,367.6L393.5,367.6ZM414.3,371.0L416.2,374.4L412.3,374.4ZM411.8,372.8L413.8,376.2L409.8,376.2ZM425.9,382.1L427.9,385.5L423.9,385.5ZM440.1,390.2L442.1,393.6L438.2,393.6ZM449.7,403.6L451.7,407.0L447.7,407.0ZM386.3,361.0L388.3,364.4L384.3,364.4ZM442.4,400.4L444.4,403.8L440.4,403.8ZM422.2,377.2L424.2,380.6L420.3,380.6ZM404.8,366.4L406.8,369.8L402.8,369.8ZM393.3,363.2L395.3,366.6L391.3,366.6ZM414.5,380.3L416.5,383.7L412.5,383.7ZM400.0,365.9L402.0,369.3L398.0,369.3ZM393.6,369.4L395.6,372.8L391.6,372.8ZM414.0,372.4L416.0,375.8L412.0,375.8ZM426.2,383.1L428.2,386.5L424.2,386.5ZM448.1,407.3L450.1,410.8L446.1,410.8ZM429.8,382.4L431.8,385.8L427.8,385.8ZM396.1,368.7L398.1,372.1L394.1,372.1ZM384.9,368.2L386.9,371.7L382.9,371.7ZM396.1,364.5L398.1,367.9L394.2,367.9ZM402.4,369.8L404.4,373.2L400.4,373.2ZM418.9,379.7L420.9,383.1L416.9,383.1ZM425.2,377.2L427.2,380.6L423.2,380.6ZM437.0,392.1L439.0,395.5L435.0,395.5ZM444.6,405.5L446.6,408.9L442.6,408.9ZM432.4,388.9L434.4,392.3L430.4,392.3ZM392.9,369.1L394.9,372.6L390.9,372.6ZM444.9,397.5L446.9,400.9L442.9,400.9ZM409.3,377.8L411.3,381.2L407.3,381.2ZM437.3,391.6L439.3,395.1L435.3,395.1ZM447.2,405.6L449.2,409.1L445.2,409.1ZM397.9,365.3L399.9,368.8L395.9,368.8ZM432.3,385.7L434.3,389.1L430.3,389.1ZM432.1,389.1L434.0,392.6L430.1,392.6ZM398.4,375.7L400.4,379.1L396.4,379.1ZM449.4,409.8L451.4,413.2L447.4,413.2ZM420.0,374.8L422.0,378.2L418.0,378.2ZM444.9,399.8L446.9,403.3L442.9,403.3ZM441.3,392.5L443.3,395.9L439.3,395.9ZM413.6,371.9L415.6,375.3L411.6,375.3ZM420.9,374.9L422.9,378.3L418.9,378.3ZM386.1,366.4L388.1,369.8L384.1,369.8ZM438.2,396.6L440.1,400.0L436.2,400.0ZM395.7,366.6L397.7,370.0L393.7,370.0ZM406.5,367.5L408.5,370.9L404.5,370.9ZM394.1,365.3L396.1,368.7L392.1,368.7ZM418.6,374.5L420.6,377.9L416.6,377.9ZM430.2,390.6L432.2,394.1L428.2,394.1ZM447.3,411.1L449.3,414.6L445.3,414.6ZM389.9,361.9L391.9,365.3L387.9,365.3ZM399.0,368.3L401.0,371.7L397.0,371.7ZM432.8,383.7L434.8,387.1L430.8,387.1ZM426.8,388.2L428.8,391.6L424.8,391.6ZM421.5,376.0L423.5,379.5L419.5,379.5ZM405.0,373.6L407.0,377.1L403.0,377.1ZM444.2,401.5L446.2,404.9L442.2,404.9ZM398.1,371.8L400.1,375.3L396.1,375.3ZM419.2,384.2L421.2,387.7L417.2,387.7ZM422.4,377.1L424.4,380.5L420.4,380.5ZM417.8,378.5L419.7,381.9L415.8,381.9ZM424.6,390.2L426.6,393.6L422.6,393.6ZM418.6,375.2L420.6,378.6L416.6,378.6ZM410.9,370.9L412.9,374.3L408.9,374.3ZM416.9,378.3L418.9,381.7L414.9,381.7ZM430.3,386.8L432.3,390.2L428.3,390.2ZM411.8,371.8L413.8,375.2L409.8,375.2ZM448.0,403.0L450.0,406.4L446.0,406.4ZM415.8,373.1L417.7,376.6L413.8,376.6ZM392.7,370.9L394.7,374.3L390.7,374.3ZM444.2,398.5L446.2,401.9L442.3,401.9ZM416.0,372.7L418.0,376.2L414.0,376.2ZM425.4,380.3L427.4,383.7L423.4,383.7ZM445.9,402.9L447.9,406.3L443.9,406.3ZM385.7,366.9L387.7,370.3L383.7,370.3ZM397.1,364.5L399.1,368.0L395.2,368.0ZM405.7,374.4L407.7,377.8L403.7,377.8ZM407.9,369.2L409.9,372.6L405.9,372.6ZM432.9,384.8L434.9,388.2L430.9,388.2ZM392.4,365.9L394.4,369.4L390.4,369.4ZM397.4,363.7L399.4,367.2L395.4,367.2ZM419.6,378.1L421.6,381.5L417.6,381.5ZM411.8,371.1L413.8,374.6L409.8,374.6ZM419.5,375.2L421.5,378.7L417.5,378.7ZM426.3,380.8L428.3,384.2L424.3,384.2ZM459.4,436.2L461.4,439.6L457.4,439.6ZM458.8,416.9L460.8,420.3L456.8,420.3ZM463.9,420.3L465.9,423.7L461.9,423.7ZM463.0,401.2L465.0,404.6L461.0,404.6ZM464.9,428.5L466.9,431.9L462.9,431.9ZM465.3,415.9L467.3,419.3L463.3,419.3ZM448.9,397.3L450.9,400.8L446.9,400.8ZM451.1,401.5L453.1,404.9L449.1,404.9ZM448.1,405.1L450.1,408.5L446.1,408.5ZM463.4,439.7L465.4,443.1L461.4,443.1ZM448.7,387.0L450.7,390.4L446.7,390.4ZM454.5,406.2L456.5,409.6L452.5,409.6ZM450.3,401.1L452.3,404.5L448.3,404.5ZM460.3,389.0L462.3,392.4L458.3,392.4ZM448.5,412.9L450.5,416.4L446.5,416.4ZM456.6,408.1L458.6,411.5L454.6,411.5ZM460.4,429.3L462.4,432.8L458.4,432.8ZM450.0,393.6L452.0,397.0L448.0,397.0ZM446.9,392.0L448.9,395.5L444.9,395.5ZM457.6,425.6L459.6,429.1L455.6,429.1ZM449.1,398.9L451.1,402.3L447.1,402.3ZM449.9,392.1L451.9,395.5L447.9,395.5ZM466.7,406.7L468.7,410.1L464.7,410.1ZM465.4,422.0L467.4,425.4L463.4,425.4ZM465.9,424.2L467.9,427.6L463.9,427.6ZM455.7,406.3L457.7,409.7L453.7,409.7ZM455.8,417.9L457.8,421.3L453.8,421.3ZM456.8,423.6L458.8,427.0L454.8,427.0ZM446.4,387.0L448.4,390.4L444.4,390.4ZM460.7,411.9L462.7,415.3L458.7,415.3ZM455.5,413.2L457.5,416.6L453.5,416.6ZM461.5,424.0L463.5,427.4L459.5,427.4ZM449.5,393.6L451.5,397.0L447.5,397.0ZM462.8,417.7L464.8,421.1L460.8,421.1ZM460.8,405.5L462.7,408.9L458.8,408.9ZM454.5,418.1L456.5,421.5L452.5,421.5ZM462.8,421.1L464.8,424.5L460.8,424.5ZM462.3,429.4L464.3,432.8L460.3,432.8ZM463.0,441.4L465.0,444.9L461.0,444.9ZM464.4,409.4L466.4,412.8L462.4,412.8ZM460.5,413.6L462.5,417.0L458.6,417.0ZM454.5,425.3L456.5,428.8L452.5,428.8ZM461.1,407.1L463.1,410.6L459.1,410.6ZM455.8,402.9L457.8,406.3L453.8,406.3ZM446.3,404.1L448.3,407.5L444.3,407.5ZM459.1,399.8L461.1,403.2L457.1,403.2ZM453.1,409.1L455.1,412.6L451.1,412.6ZM459.8,427.6L461.8,431.0L457.8,431.0ZM454.2,411.0L456.2,414.4L452.2,414.4ZM466.9,440.3L468.9,443.7L464.9,443.7ZM461.9,432.7L463.9,436.1L459.9,436.1ZM466.5,411.8L468.5,415.2L464.5,415.2ZM461.5,415.2L463.5,418.6L459.5,418.6ZM451.4,403.8L453.4,407.2L449.4,407.2ZM450.2,396.7L452.1,400.1L448.2,400.1ZM453.9,397.1L455.9,400.5L451.9,400.5ZM464.9,419.3L466.9,422.8L462.9,422.8ZM457.5,441.1L459.5,444.5L455.5,444.5ZM457.9,412.5L459.9,415.9L455.9,415.9ZM466.8,442.5L468.8,445.9L464.8,445.9ZM447.7,411.9L449.7,415.3L445.7,415.3ZM458.5,411.9L460.5,415.3L456.5,415.3ZM465.5,429.2L467.4,432.6L463.5,432.6ZM449.4,404.9L451.4,408.3L447.4,408.3ZM456.4,407.2L458.4,410.6L454.4,410.6ZM458.8,386.1L460.8,389.5L456.8,389.5ZM454.8,395.7L456.8,399.1L452.8,399.1ZM457.0,418.7L459.0,422.1L455.1,422.1ZM452.0,408.0L454.0,411.5L450.0,411.5ZM459.7,423.2L461.7,426.6L457.7,426.6ZM461.0,420.2L463.0,423.6L459.0,423.6ZM452.2,393.1L454.2,396.5L450.2,396.5ZM447.0,393.8L449.0,397.2L445.0,397.2ZM449.3,397.4L451.3,400.8L447.3,400.8ZM464.8,435.9L466.8,439.3L462.8,439.3ZM465.7,415.3L467.7,418.7L463.8,418.7ZM456.0,414.8L458.0,418.2L454.0,418.2ZM466.3,427.0L468.3,430.4L464.4,430.4ZM465.6,411.6L467.6,415.0L463.6,415.0ZM463.1,414.2L465.1,417.7L461.1,417.7ZM458.7,399.9L460.6,403.4L456.7,403.4ZM455.6,396.1L457.6,399.6L453.6,399.6ZM450.3,385.4L452.3,388.8L448.3,388.8ZM448.7,392.2L450.7,395.6L446.7,395.6ZM455.3,413.0L457.3,416.5L453.3,416.5ZM451.5,412.1L453.5,415.6L449.5,415.6ZM458.2,429.4L460.2,432.8L456.2,432.8ZM457.1,399.8L459.1,403.2L455.1,403.2ZM466.9,410.3L468.9,413.8L464.9,413.8ZM451.0,405.8L453.0,409.2L449.0,409.2ZM459.1,426.0L461.1,429.4L457.1,429.4ZM453.6,406.3L455.6,409.7L451.6,409.7ZM457.8,393.1L459.8,396.6L455.8,396.6ZM458.4,425.1L460.4,428.5L456.4,428.5ZM450.0,413.3L452.0,416.7L448.0,416.7ZM464.4,426.7L466.4,430.1L462.4,430.1ZM446.9,385.8L448.9,389.2L444.9,389.2ZM454.9,402.5L456.9,406.0L452.9,406.0ZM459.1,401.3L461.1,404.7L457.1,404.7ZM447.6,386.6L449.6,390.0L445.6,390.0ZM461.2,400.6L463.2,404.0L459.2,404.0ZM464.1,401.5L466.1,404.9L462.1,404.9ZM463.0,404.6L465.0,408.0L461.0,408.0ZM462.0,407.2L464.0,410.7L460.0,410.7ZM465.3,397.4L467.3,400.8L463.3,400.8ZM461.1,411.7L463.1,415.1L459.1,415.1ZM465.7,401.7L467.7,405.1L463.7,405.1ZM465.5,409.8L467.5,413.3L463.5,413.3ZM463.3,408.9L465.3,412.4L461.3,412.4ZM465.7,406.7L467.7,410.2L463.7,410.2ZM464.7,394.4L466.7,397.8L462.7,397.8ZM462.7,403.2L464.7,406.6L460.7,406.6ZM465.3,395.8L467.3,399.2L463.3,399.2ZM463.3,406.7L465.3,410.2L461.3,410.2ZM461.3,396.7L463.2,400.1L459.3,400.1ZM461.1,412.4L463.1,415.8L459.1,415.8ZM464.2,404.4L466.2,407.9L462.2,407.9ZM464.9,408.1L466.9,411.6L462.9,411.6Z" fill="#c6c6c6"/>
<polyline points="326.40,356.00 328.20,356.08 330.00,356.17 331.80,356.26 333.60,356.36 335.40,356.46 337.20,356.57 339.01,356.68 340.81,356.79 342.61,356.92 344.41,357.05 346.21,357.18 348.01,357.33 349.81,357.48 351.61,357.64 353.41,357.80 355.21,357.98 357.01,358.16 358.81,358.36 360.61,358.56 362.41,358.77 364.22,359.00 366.02,359.24 367.82,359.48 369.62,359.75 371.42,360.02 373.22,360.31 375.02,360.62 376.82,360.94 378.62,361.27 380.42,361.62 382.22,362.00 384.02,362.39 385.82,362.80 387.62,363.23 389.43,363.68 391.23,364.16 393.03,364.66 394.83,365.19 396.63,365.75 398.43,366.33 400.23,366.95 402.03,367.59 403.83,368.27 405.63,368.98 407.43,369.73 409.23,370.52 411.03,371.35 412.83,372.22 414.64,373.14 416.44,374.10 418.24,375.12 420.04,376.18 421.84,377.30 423.64,378.48 425.44,379.72 427.24,381.02 429.04,382.39 430.84,383.83 432.64,385.34 434.44,386.93 436.24,388.60 438.04,390.36 439.85,392.21 441.65,394.16 443.45,396.20 445.25,398.35 447.05,400.61 448.85,402.99 450.65,405.48 452.45,408.11 454.25,410.87 456.05,413.78 457.85,416.83 459.65,420.04 461.45,423.42 463.26,426.96 465.06,430.69 466.86,434.62 468.66,438.74" fill="none" stroke="#92c5f5" stroke-width="3.6" stroke-linecap="round" stroke-linejoin="round"/>
<line x1="455.70" y1="412.60" x2="455.70" y2="461.30" stroke="#f5b26e" stroke-width="1.3" stroke-dasharray="4,2.4"/>
<circle cx="455.7" cy="412.6" r="2.3" fill="#f5b26e"/>
<text x="427.60" y="456.20" font-size="9.6" font-weight="normal" text-anchor="start" fill="#f5b26e" >cutoff</text>
<path d="M336.8,437.1L341.2,444.6L332.4,444.6Z" fill="#c6c6c6"/>
<text x="348.00" y="441.80" font-size="8.8" font-weight="bold" text-anchor="start" fill="#000" >Meas.</text>
<line x1="331.40" y1="452.80" x2="342.00" y2="452.80" stroke="#92c5f5" stroke-width="1.6" />
<text x="348.40" y="455.50" font-size="8.4" font-weight="bold" text-anchor="start" fill="#000" >Fit</text>
<text x="405.80" y="480.50" font-size="8.6" font-weight="bold" text-anchor="middle" fill="#000" >Spatial frequency (1/mm)</text>
<text x="0.00" y="0.00" font-size="8.3" font-weight="bold" text-anchor="middle" fill="#1a1a1a" transform="translate(305.6,401) rotate(-90)">Normalized MTF</text>
<rect x="521.2" y="340.7" width="160.40" height="119.80" fill="none" stroke="#3a3a3a" stroke-width="0.9"/>
<line x1="521.20" y1="460.50" x2="521.20" y2="463.10" stroke="#3a3a3a" stroke-width="0.8" />
<text x="521.20" y="471.20" font-size="8.2" font-weight="normal" text-anchor="middle" fill="#222" >−8</text>
<line x1="561.30" y1="460.50" x2="561.30" y2="463.10" stroke="#3a3a3a" stroke-width="0.8" />
<text x="561.30" y="471.20" font-size="8.2" font-weight="normal" text-anchor="middle" fill="#222" >−4</text>
<line x1="601.40" y1="460.50" x2="601.40" y2="463.10" stroke="#3a3a3a" stroke-width="0.8" />
<text x="601.40" y="471.20" font-size="8.2" font-weight="normal" text-anchor="middle" fill="#222" >0</text>
<line x1="641.50" y1="460.50" x2="641.50" y2="463.10" stroke="#3a3a3a" stroke-width="0.8" />
<text x="641.50" y="471.20" font-size="8.2" font-weight="normal" text-anchor="middle" fill="#222" >4</text>
<line x1="681.60" y1="460.50" x2="681.60" y2="463.10" stroke="#3a3a3a" stroke-width="0.8" />
<text x="681.60" y="471.20" font-size="8.2" font-weight="normal" text-anchor="middle" fill="#222" >8</text>
<line x1="518.60" y1="460.50" x2="521.20" y2="460.50" stroke="#3a3a3a" stroke-width="0.8" />
<text x="516.60" y="463.40" font-size="8.4" font-weight="normal" text-anchor="end" fill="#222" >0</text>
<line x1="518.60" y1="436.54" x2="521.20" y2="436.54" stroke="#3a3a3a" stroke-width="0.8" />
<text x="516.60" y="439.44" font-size="8.4" font-weight="normal" text-anchor="end" fill="#222" >20</text>
<line x1="518.60" y1="412.58" x2="521.20" y2="412.58" stroke="#3a3a3a" stroke-width="0.8" />
<text x="516.60" y="415.48" font-size="8.4" font-weight="normal" text-anchor="end" fill="#222" >40</text>
<line x1="518.60" y1="388.62" x2="521.20" y2="388.62" stroke="#3a3a3a" stroke-width="0.8" />
<text x="516.60" y="391.52" font-size="8.4" font-weight="normal" text-anchor="end" fill="#222" >60</text>
<line x1="518.60" y1="364.66" x2="521.20" y2="364.66" stroke="#3a3a3a" stroke-width="0.8" />
<text x="516.60" y="367.56" font-size="8.4" font-weight="normal" text-anchor="end" fill="#222" >80</text>
<line x1="518.60" y1="340.70" x2="521.20" y2="340.70" stroke="#3a3a3a" stroke-width="0.8" />
<text x="516.60" y="343.60" font-size="8.4" font-weight="normal" text-anchor="end" fill="#222" >100</text>
<path d="M529.8,354.8L531.6,358.0L527.9,358.0ZM531.1,356.8L532.9,359.9L529.3,359.9ZM531.8,353.7L533.7,356.8L530.0,356.8ZM532.4,355.2L534.2,358.3L530.5,358.3ZM532.5,357.3L534.3,360.5L530.6,360.5ZM533.7,355.7L535.5,358.9L531.8,358.9ZM534.2,358.9L536.1,362.1L532.4,362.1ZM534.6,357.2L536.5,360.4L532.8,360.4ZM535.8,352.4L537.6,355.6L534.0,355.6ZM535.7,363.0L537.5,366.2L533.8,366.2ZM536.1,359.0L537.9,362.2L534.2,362.2ZM536.8,362.9L538.7,366.1L535.0,366.1ZM537.2,354.9L539.0,358.1L535.4,358.1ZM538.0,364.2L539.8,367.3L536.2,367.3ZM538.7,364.1L540.5,367.3L536.8,367.3ZM539.3,360.5L541.1,363.7L537.4,363.7ZM540.5,362.0L542.4,365.2L538.7,365.2ZM540.7,360.3L542.6,363.4L538.9,363.4ZM540.8,362.7L542.6,365.8L538.9,365.8ZM542.3,368.9L544.2,372.0L540.5,372.0ZM541.8,364.3L543.6,367.5L539.9,367.5ZM543.2,368.6L545.0,371.8L541.3,371.8ZM544.5,371.5L546.3,374.7L542.7,374.7ZM544.6,369.5L546.4,372.7L542.8,372.7ZM545.1,368.8L546.9,372.0L543.2,372.0ZM546.1,371.1L547.9,374.2L544.2,374.2ZM546.6,369.7L548.4,372.8L544.8,372.8ZM547.5,371.0L549.3,374.1L545.6,374.1ZM546.9,368.6L548.7,371.8L545.0,371.8ZM548.5,371.0L550.3,374.2L546.6,374.2ZM548.2,375.5L550.1,378.6L546.4,378.6ZM549.7,376.8L551.6,379.9L547.9,379.9ZM549.7,381.0L551.6,384.2L547.9,384.2ZM550.3,377.3L552.1,380.5L548.4,380.5ZM551.1,373.0L553.0,376.1L549.3,376.1ZM551.8,379.3L553.6,382.5L550.0,382.5ZM553.0,380.2L554.9,383.4L551.2,383.4ZM552.8,385.1L554.7,388.2L551.0,388.2ZM554.2,379.1L556.0,382.2L552.3,382.2ZM554.7,386.2L556.5,389.4L552.9,389.4ZM555.6,379.8L557.4,382.9L553.7,382.9ZM555.7,389.7L557.5,392.8L553.8,392.8ZM556.5,389.8L558.4,393.0L554.7,393.0ZM556.5,386.6L558.4,389.8L554.7,389.8ZM557.7,388.4L559.5,391.5L555.8,391.5ZM558.7,387.0L560.5,390.1L556.8,390.1ZM558.0,390.1L559.9,393.2L556.2,393.2ZM559.0,388.3L560.8,391.5L557.2,391.5ZM559.0,392.7L560.9,395.9L557.2,395.9ZM560.1,383.5L561.9,386.7L558.2,386.7ZM561.4,389.0L563.3,392.2L559.6,392.2ZM561.1,390.3L562.9,393.5L559.2,393.5ZM562.3,391.0L564.2,394.2L560.5,394.2ZM563.5,393.8L565.3,397.0L561.6,397.0ZM562.9,394.6L564.8,397.7L561.1,397.7ZM563.6,396.6L565.4,399.8L561.8,399.8ZM564.8,397.4L566.7,400.6L563.0,400.6ZM564.8,393.9L566.7,397.0L563.0,397.0ZM565.4,398.7L567.2,401.8L563.5,401.8ZM566.9,398.3L568.8,401.4L565.1,401.4ZM567.6,403.0L569.5,406.2L565.8,406.2ZM567.7,398.8L569.5,401.9L565.9,401.9ZM569.0,403.8L570.9,406.9L567.2,406.9ZM568.7,397.8L570.6,400.9L566.9,400.9ZM569.6,412.7L571.4,415.8L567.7,415.8ZM569.8,408.4L571.6,411.6L567.9,411.6ZM571.3,399.9L573.1,403.0L569.5,403.0ZM571.2,405.7L573.1,408.8L569.4,408.8ZM571.7,412.7L573.5,415.8L569.8,415.8ZM573.4,410.6L575.3,413.7L571.6,413.7ZM572.5,412.2L574.3,415.3L570.7,415.3ZM573.8,413.8L575.7,416.9L572.0,416.9ZM574.8,416.6L576.7,419.8L573.0,419.8ZM575.3,409.7L577.1,412.9L573.5,412.9ZM575.5,413.7L577.3,416.8L573.6,416.8ZM576.0,414.1L577.8,417.2L574.1,417.2ZM577.2,413.9L579.0,417.1L575.3,417.1ZM578.4,420.1L580.2,423.3L576.5,423.3ZM577.6,418.6L579.5,421.8L575.8,421.8ZM579.2,415.2L581.1,418.4L577.4,418.4ZM580.0,414.1L581.8,417.2L578.1,417.2ZM580.6,420.6L582.4,423.8L578.7,423.8ZM581.0,419.3L582.8,422.5L579.2,422.5ZM580.6,421.1L582.5,424.2L578.8,424.2ZM582.6,426.6L584.5,429.7L580.8,429.7ZM582.6,423.5L584.5,426.6L580.8,426.6ZM583.6,423.0L585.4,426.2L581.7,426.2ZM583.6,427.5L585.4,430.6L581.8,430.6ZM584.9,425.0L586.7,428.1L583.0,428.1ZM584.5,427.5L586.3,430.7L582.7,430.7ZM585.0,431.2L586.9,434.3L583.2,434.3ZM586.7,429.2L588.6,432.3L584.9,432.3ZM586.1,429.7L588.0,432.9L584.3,432.9ZM587.1,426.8L589.0,429.9L585.3,429.9ZM587.8,434.6L589.7,437.7L586.0,437.7ZM589.0,429.2L590.8,432.4L587.1,432.4ZM589.2,428.2L591.0,431.3L587.4,431.3ZM590.6,429.1L592.5,432.2L588.8,432.2ZM589.7,429.1L591.6,432.3L587.9,432.3ZM590.9,435.6L592.8,438.7L589.1,438.7ZM591.8,432.4L593.7,435.6L590.0,435.6ZM592.3,434.3L594.1,437.4L590.4,437.4ZM593.4,422.7L595.3,425.8L591.6,425.8ZM593.1,431.8L594.9,434.9L591.3,434.9ZM594.0,434.5L595.8,437.6L592.2,437.6ZM594.9,434.4L596.7,437.5L593.0,437.5ZM595.2,433.6L597.1,436.8L593.4,436.8ZM596.3,430.1L598.1,433.3L594.5,433.3ZM597.0,433.0L598.9,436.1L595.2,436.1ZM597.0,430.9L598.8,434.0L595.2,434.0ZM598.2,429.2L600.1,432.4L596.4,432.4ZM598.2,434.4L600.1,437.5L596.4,437.5ZM598.5,432.4L600.4,435.5L596.7,435.5ZM599.1,434.2L600.9,437.4L597.2,437.4ZM599.8,435.2L601.7,438.3L598.0,438.3ZM600.8,437.4L602.6,440.5L599.0,440.5ZM600.9,430.8L602.8,433.9L599.1,433.9ZM601.7,436.5L603.6,439.6L599.9,439.6ZM602.7,431.9L604.5,435.1L600.8,435.1ZM602.7,431.4L604.6,434.5L600.9,434.5ZM604.0,429.7L605.9,432.9L602.2,432.9ZM604.9,434.1L606.7,437.2L603.0,437.2ZM605.1,431.7L606.9,434.9L603.2,434.9ZM605.6,437.9L607.4,441.1L603.8,441.1ZM606.3,432.5L608.2,435.6L604.5,435.6ZM607.4,431.5L609.3,434.7L605.6,434.7ZM608.0,426.1L609.8,429.3L606.1,429.3ZM608.5,432.0L610.3,435.1L606.7,435.1ZM608.7,428.3L610.5,431.4L606.9,431.4ZM609.8,430.5L611.6,433.6L608.0,433.6ZM610.2,428.1L612.0,431.3L608.4,431.3ZM611.3,428.3L613.1,431.4L609.4,431.4ZM610.9,427.9L612.7,431.0L609.0,431.0ZM612.5,433.3L614.3,436.4L610.6,436.4ZM612.4,425.9L614.2,429.0L610.6,429.0ZM613.3,430.9L615.1,434.1L611.4,434.1ZM614.7,425.2L616.5,428.3L612.8,428.3ZM614.5,424.0L616.4,427.1L612.7,427.1ZM614.6,428.6L616.5,431.8L612.8,431.8ZM616.4,432.6L618.3,435.8L614.6,435.8ZM615.7,427.8L617.5,430.9L613.8,430.9ZM616.5,427.3L618.4,430.4L614.7,430.4ZM617.3,429.5L619.1,432.7L615.5,432.7ZM618.9,426.9L620.7,430.0L617.0,430.0ZM618.2,426.3L620.0,429.4L616.4,429.4ZM620.2,420.8L622.0,423.9L618.3,423.9ZM620.1,418.3L621.9,421.5L618.3,421.5ZM620.7,417.0L622.6,420.1L618.9,420.1ZM621.9,423.6L623.7,426.8L620.1,426.8ZM622.7,421.5L624.5,424.7L620.8,424.7ZM621.9,418.1L623.7,421.3L620.0,421.3ZM623.6,422.9L625.5,426.0L621.8,426.0ZM623.3,419.8L625.1,423.0L621.5,423.0ZM624.4,410.9L626.3,414.1L622.6,414.1ZM625.0,415.5L626.9,418.7L623.2,418.7ZM624.9,417.4L626.7,420.5L623.0,420.5ZM627.0,412.8L628.8,416.0L625.1,416.0ZM627.5,413.4L629.3,416.6L625.7,416.6ZM627.7,414.4L629.5,417.5L625.8,417.5ZM628.4,414.3L630.2,417.4L626.6,417.4ZM629.1,414.2L631.0,417.3L627.3,417.3ZM628.5,407.4L630.3,410.5L626.6,410.5ZM629.3,408.2L631.1,411.3L627.5,411.3ZM630.3,405.0L632.1,408.1L628.5,408.1ZM631.1,409.1L633.0,412.3L629.3,412.3ZM631.3,407.2L633.2,410.4L629.5,410.4ZM632.6,408.0L634.4,411.1L630.7,411.1ZM632.2,405.6L634.0,408.7L630.4,408.7ZM634.3,404.3L636.1,407.4L632.5,407.4ZM634.3,403.9L636.2,407.1L632.5,407.1ZM635.0,404.5L636.8,407.7L633.1,407.7ZM635.7,399.8L637.5,402.9L633.9,402.9ZM636.0,399.1L637.8,402.2L634.2,402.2ZM637.4,403.5L639.3,406.7L635.6,406.7ZM637.1,394.1L638.9,397.2L635.3,397.2ZM637.8,401.5L639.6,404.6L635.9,404.6ZM638.5,401.5L640.4,404.6L636.7,404.6ZM639.1,397.0L641.0,400.1L637.3,400.1ZM639.4,399.4L641.3,402.6L637.6,402.6ZM639.6,389.5L641.4,392.6L637.8,392.6ZM641.3,392.3L643.1,395.4L639.5,395.4ZM641.7,396.9L643.5,400.0L639.9,400.0ZM642.3,389.2L644.2,392.4L640.5,392.4ZM642.1,390.9L643.9,394.1L640.3,394.1ZM643.4,384.8L645.2,388.0L641.6,388.0ZM643.8,383.8L645.7,387.0L642.0,387.0ZM644.7,380.7L646.5,383.8L642.8,383.8ZM644.8,382.7L646.7,385.8L643.0,385.8ZM645.4,384.3L647.3,387.5L643.6,387.5ZM645.8,379.3L647.6,382.5L643.9,382.5ZM647.4,374.4L649.2,377.5L645.5,377.5ZM648.3,384.6L650.1,387.7L646.4,387.7ZM647.9,384.2L649.7,387.4L646.0,387.4ZM649.3,375.7L651.2,378.8L647.5,378.8ZM648.9,383.5L650.7,386.7L647.1,386.7ZM650.6,379.1L652.5,382.3L648.8,382.3ZM651.5,372.7L653.3,375.8L649.7,375.8ZM650.6,371.7L652.4,374.9L648.8,374.9ZM651.7,373.3L653.6,376.5L649.9,376.5ZM651.9,369.8L653.8,373.0L650.1,373.0ZM653.1,366.9L654.9,370.1L651.2,370.1ZM653.6,374.0L655.5,377.1L651.8,377.1ZM653.7,370.3L655.6,373.5L651.9,373.5ZM655.7,369.0L657.6,372.2L653.9,372.2ZM656.4,368.9L658.2,372.1L654.6,372.1ZM657.1,363.3L658.9,366.5L655.2,366.5ZM656.6,368.0L658.4,371.1L654.8,371.1ZM658.2,364.7L660.1,367.8L656.4,367.8ZM658.7,362.6L660.5,365.8L656.9,365.8ZM658.5,364.8L660.4,367.9L656.7,367.9ZM660.0,364.7L661.8,367.8L658.2,367.8ZM660.8,361.8L662.6,365.0L659.0,365.0ZM660.1,360.2L662.0,363.3L658.3,363.3ZM661.8,356.7L663.7,359.8L660.0,359.8ZM662.2,358.9L664.0,362.0L660.4,362.0ZM662.2,359.3L664.0,362.4L660.3,362.4ZM663.4,354.1L665.3,357.2L661.6,357.2ZM663.1,362.3L664.9,365.5L661.3,365.5ZM664.2,360.5L666.1,363.7L662.4,363.7ZM664.2,364.5L666.1,367.7L662.4,367.7ZM665.9,356.6L667.7,359.8L664.0,359.8ZM665.7,353.9L667.5,357.1L663.8,357.1ZM667.0,355.1L668.9,358.3L665.2,358.3ZM667.8,353.5L669.7,356.7L666.0,356.7ZM668.6,358.3L670.5,361.4L666.8,361.4ZM668.8,351.3L670.6,354.5L666.9,354.5ZM669.9,353.8L671.7,356.9L668.1,356.9ZM670.1,351.0L671.9,354.2L668.3,354.2ZM669.8,353.9L671.6,357.0L668.0,357.0ZM671.8,348.3L673.7,351.4L670.0,351.4Z" fill="#cbcbcb"/>
<polyline points="530.22,356.87 530.95,357.45 531.91,358.19 533.05,359.07 534.32,360.06 535.67,361.15 537.04,362.31 538.38,363.53 539.65,364.78 540.85,366.08 542.07,367.47 543.30,368.94 544.53,370.46 545.77,372.04 547.00,373.67 548.24,375.32 549.47,377.00 550.70,378.72 551.92,380.51 553.15,382.34 554.38,384.21 555.60,386.10 556.83,387.99 558.06,389.88 559.30,391.73 560.53,393.58 561.77,395.42 563.01,397.26 564.26,399.10 565.50,400.94 566.74,402.79 567.98,404.63 569.22,406.47 570.45,408.34 571.68,410.24 572.91,412.16 574.14,414.07 575.36,415.95 576.59,417.78 577.82,419.54 579.04,421.21 580.27,422.82 581.48,424.42 582.70,425.98 583.91,427.47 585.13,428.87 586.36,430.15 587.61,431.28 588.87,432.23 590.15,432.99 591.45,433.59 592.76,434.05 594.09,434.38 595.42,434.61 596.75,434.75 598.07,434.83 599.39,434.86 600.71,434.84 602.04,434.74 603.37,434.56 604.70,434.31 606.02,433.97 607.33,433.55 608.63,433.05 609.92,432.47 611.19,431.80 612.45,431.06 613.69,430.23 614.93,429.32 616.16,428.33 617.39,427.24 618.61,426.07 619.85,424.80 621.08,423.41 622.31,421.91 623.54,420.30 624.76,418.61 625.99,416.85 627.22,415.05 628.44,413.22 629.67,411.38 630.90,409.51 632.12,407.58 633.35,405.60 634.58,403.58 635.80,401.54 637.03,399.50 638.26,397.46 639.50,395.45 640.73,393.44 641.97,391.41 643.21,389.37 644.46,387.34 645.70,385.32 646.94,383.31 648.18,381.33 649.42,379.40 650.64,377.47 651.84,375.54 653.02,373.62 654.21,371.73 655.42,369.88 656.65,368.10 657.92,366.39 659.24,364.78 660.71,363.22 662.34,361.66 664.05,360.15 665.77,358.71 667.42,357.40 668.90,356.23 670.15,355.24 671.07,354.48" fill="none" stroke="#92c5f5" stroke-width="2.9" stroke-linecap="round" stroke-linejoin="round"/>
<text x="601.70" y="480.60" font-size="8.6" font-weight="bold" text-anchor="middle" fill="#000" >Axial position (mm)</text>
<text x="0.00" y="0.00" font-size="8.6" font-weight="bold" text-anchor="middle" fill="#1a1a1a" transform="translate(499.4,402) rotate(-90)">Resolution (μm)</text>
</svg></body></html>
